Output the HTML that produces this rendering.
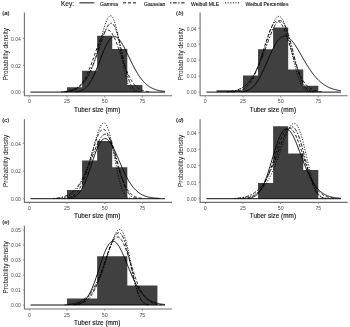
<!DOCTYPE html>
<html lang="en"><head><meta charset="utf-8"><title>Tuber size distributions</title>
<style>html,body{margin:0;padding:0;background:#fff;}body{width:350px;height:327px;overflow:hidden;}svg{display:block;will-change:transform;}</style>
</head><body>
<svg width="350" height="327" viewBox="0 0 350 327" font-family='"Liberation Sans", sans-serif'>
<rect width="350" height="327" fill="#fff"/>
<g font-size="5.05" fill="#000" stroke="#000" stroke-width="0.08">
<text x="61" y="5.8" font-size="6.5" fill="#111" stroke="#111" stroke-width="0.1">Key:</text>
<line x1="79.4" y1="2.85" x2="94.3" y2="2.85" stroke="#000" stroke-width="0.95"/>
<text x="100" y="5.6">Gamma</text>
<line x1="123" y1="2.85" x2="137.6" y2="2.85" stroke="#000" stroke-width="0.95" stroke-dasharray="3 2"/>
<text x="144" y="5.6">Gaussian</text>
<line x1="170" y1="2.85" x2="184.6" y2="2.85" stroke="#000" stroke-width="0.95" stroke-dasharray="1.5 1.5 3.7 1.5"/>
<text x="191" y="5.6">Weibull MLE</text>
<line x1="225" y1="2.85" x2="239.6" y2="2.85" stroke="#000" stroke-width="0.95" stroke-dasharray="1.1 1.5"/>
<text x="245.6" y="5.6">Weibull Percentiles</text>
</g>
<g id="panel-a">
<path d="M67.03 92.10 V87.30 H82.09 V70.70 H97.16 V35.80 H112.23 V49.00 H127.31 V85.00 H142.38 V92.10 Z" fill="#404040"/>
<line x1="30.56" x2="164.98" y1="92.10" y2="92.10" stroke="#000" stroke-width="0.95"/>
<path d="M75.51 91.82 L75.96 91.78 L76.41 91.73 L76.86 91.67 L77.31 91.60 L77.76 91.53 L78.21 91.45 L78.66 91.35 L79.11 91.25 L79.56 91.13 L80.01 91.00 L80.46 90.86 L80.91 90.70 L81.36 90.53 L81.81 90.33 L82.26 90.12 L82.71 89.90 L83.16 89.65 L83.61 89.37 L84.06 89.08 L84.51 88.76 L84.95 88.42 L85.40 88.05 L85.85 87.66 L86.30 87.23 L86.75 86.78 L87.20 86.30 L87.65 85.79 L88.10 85.24 L88.55 84.67 L89.00 84.06 L89.45 83.42 L89.90 82.74 L90.35 82.03 L90.80 81.29 L91.25 80.52 L91.70 79.72 L92.15 78.88 L92.60 78.01 L93.05 77.11 L93.50 76.17 L93.95 75.21 L94.40 74.23 L94.85 73.21 L95.30 72.17 L95.74 71.11 L96.19 70.02 L96.64 68.92 L97.09 67.79 L97.54 66.65 L97.99 65.50 L98.44 64.34 L98.89 63.17 L99.34 61.99 L99.79 60.81 L100.24 59.63 L100.69 58.45 L101.14 57.27 L101.59 56.11 L102.04 54.95 L102.49 53.81 L102.94 52.68 L103.39 51.58 L103.84 50.49 L104.29 49.43 L104.74 48.40 L105.19 47.40 L105.64 46.43 L106.09 45.49 L106.53 44.59 L106.98 43.73 L107.43 42.92 L107.88 42.14 L108.33 41.41 L108.78 40.73 L109.23 40.10 L109.68 39.52 L110.13 38.98 L110.58 38.50 L111.03 38.08 L111.48 37.70 L111.93 37.38 L112.38 37.12 L112.83 36.91 L113.28 36.75 L113.73 36.65 L114.18 36.60 L114.63 36.61 L115.08 36.67 L115.53 36.78 L115.98 36.95 L116.43 37.16 L116.87 37.43 L117.32 37.74 L117.77 38.10 L118.22 38.50 L118.67 38.95 L119.12 39.45 L119.57 39.98 L120.02 40.55 L120.47 41.16 L120.92 41.80 L121.37 42.48 L121.82 43.18 L122.27 43.92 L122.72 44.69 L123.17 45.48 L123.62 46.29 L124.07 47.12 L124.52 47.98 L124.97 48.85 L125.42 49.73 L125.87 50.63 L126.32 51.54 L126.77 52.46 L127.22 53.39 L127.66 54.32 L128.11 55.26 L128.56 56.20 L129.01 57.14 L129.46 58.08 L129.91 59.02 L130.36 59.95 L130.81 60.88 L131.26 61.80 L131.71 62.72 L132.16 63.62 L132.61 64.52 L133.06 65.41 L133.51 66.28 L133.96 67.14 L134.41 67.99 L134.86 68.83 L135.31 69.65 L135.76 70.45 L136.21 71.24 L136.66 72.01 L137.11 72.77 L137.56 73.50 L138.01 74.22 L138.45 74.93 L138.90 75.61 L139.35 76.28 L139.80 76.93 L140.25 77.56 L140.70 78.17 L141.15 78.76 L141.60 79.34 L142.05 79.89 L142.50 80.43 L142.95 80.96 L143.40 81.46 L143.85 81.95 L144.30 82.42 L144.75 82.87 L145.20 83.31 L145.65 83.73 L146.10 84.13 L146.55 84.52 L147.00 84.89 L147.45 85.25 L147.90 85.59 L148.35 85.92 L148.80 86.24 L149.24 86.54 L149.69 86.83 L150.14 87.11 L150.59 87.37 L151.04 87.62 L151.49 87.86 L151.94 88.09 L152.39 88.31 L152.84 88.52 L153.29 88.72 L153.74 88.91 L154.19 89.09 L154.64 89.26 L155.09 89.42 L155.54 89.58 L155.99 89.73 L156.44 89.86 L156.89 90.00 L157.34 90.12 L157.79 90.24 L158.24 90.35 L158.69 90.46 L159.14 90.56 L159.59 90.65 L160.03 90.74 L160.48 90.83 L160.93 90.91 L161.38 90.98 L161.83 91.05 L162.28 91.12 L162.73 91.18 L163.18 91.24 L163.63 91.30 L164.08 91.35 L164.53 91.40 L164.98 91.44" fill="none" stroke="#000" stroke-width="0.95"/>
<path d="M65.17 91.81 L65.62 91.78 L66.07 91.74 L66.52 91.70 L66.97 91.65 L67.42 91.60 L67.87 91.54 L68.32 91.48 L68.77 91.41 L69.22 91.34 L69.67 91.26 L70.12 91.17 L70.57 91.07 L71.02 90.96 L71.47 90.85 L71.92 90.72 L72.37 90.58 L72.82 90.43 L73.27 90.27 L73.72 90.10 L74.16 89.91 L74.61 89.71 L75.06 89.49 L75.51 89.25 L75.96 89.00 L76.41 88.72 L76.86 88.43 L77.31 88.12 L77.76 87.78 L78.21 87.43 L78.66 87.05 L79.11 86.64 L79.56 86.21 L80.01 85.76 L80.46 85.27 L80.91 84.76 L81.36 84.22 L81.81 83.65 L82.26 83.05 L82.71 82.42 L83.16 81.76 L83.61 81.07 L84.06 80.34 L84.51 79.58 L84.95 78.79 L85.40 77.96 L85.85 77.10 L86.30 76.21 L86.75 75.29 L87.20 74.33 L87.65 73.34 L88.10 72.32 L88.55 71.27 L89.00 70.19 L89.45 69.08 L89.90 67.94 L90.35 66.78 L90.80 65.60 L91.25 64.39 L91.70 63.16 L92.15 61.91 L92.60 60.65 L93.05 59.37 L93.50 58.09 L93.95 56.79 L94.40 55.49 L94.85 54.19 L95.30 52.89 L95.74 51.59 L96.19 50.30 L96.64 49.02 L97.09 47.75 L97.54 46.50 L97.99 45.27 L98.44 44.07 L98.89 42.90 L99.34 41.75 L99.79 40.65 L100.24 39.58 L100.69 38.55 L101.14 37.57 L101.59 36.64 L102.04 35.76 L102.49 34.93 L102.94 34.16 L103.39 33.45 L103.84 32.81 L104.29 32.23 L104.74 31.71 L105.19 31.27 L105.64 30.89 L106.09 30.59 L106.53 30.36 L106.98 30.20 L107.43 30.12 L107.88 30.11 L108.33 30.17 L108.78 30.31 L109.23 30.52 L109.68 30.81 L110.13 31.17 L110.58 31.60 L111.03 32.09 L111.48 32.66 L111.93 33.29 L112.38 33.98 L112.83 34.74 L113.28 35.55 L113.73 36.42 L114.18 37.34 L114.63 38.31 L115.08 39.32 L115.53 40.38 L115.98 41.48 L116.43 42.61 L116.87 43.78 L117.32 44.98 L117.77 46.20 L118.22 47.44 L118.67 48.70 L119.12 49.98 L119.57 51.27 L120.02 52.57 L120.47 53.87 L120.92 55.17 L121.37 56.47 L121.82 57.77 L122.27 59.06 L122.72 60.34 L123.17 61.60 L123.62 62.85 L124.07 64.09 L124.52 65.30 L124.97 66.49 L125.42 67.66 L125.87 68.80 L126.32 69.92 L126.77 71.00 L127.22 72.06 L127.66 73.09 L128.11 74.09 L128.56 75.05 L129.01 75.99 L129.46 76.89 L129.91 77.75 L130.36 78.59 L130.81 79.39 L131.26 80.16 L131.71 80.89 L132.16 81.59 L132.61 82.26 L133.06 82.90 L133.51 83.51 L133.96 84.09 L134.41 84.63 L134.86 85.15 L135.31 85.64 L135.76 86.10 L136.21 86.54 L136.66 86.95 L137.11 87.34 L137.56 87.70 L138.01 88.04 L138.45 88.36 L138.90 88.65 L139.35 88.93 L139.80 89.19 L140.25 89.43 L140.70 89.65 L141.15 89.86 L141.60 90.05 L142.05 90.23 L142.50 90.40 L142.95 90.55 L143.40 90.69 L143.85 90.82 L144.30 90.94 L144.75 91.05 L145.20 91.15 L145.65 91.24 L146.10 91.32 L146.55 91.40 L147.00 91.47 L147.45 91.53 L147.90 91.59 L148.35 91.64 L148.80 91.69 L149.24 91.73 L149.69 91.77 L150.14 91.80" fill="none" stroke="#000" stroke-width="0.95" stroke-dasharray="3 2"/>
<path d="M61.13 91.80 L61.58 91.77 L62.03 91.74 L62.48 91.71 L62.93 91.67 L63.37 91.63 L63.82 91.59 L64.27 91.54 L64.72 91.49 L65.17 91.44 L65.62 91.38 L66.07 91.32 L66.52 91.25 L66.97 91.18 L67.42 91.11 L67.87 91.02 L68.32 90.94 L68.77 90.85 L69.22 90.75 L69.67 90.64 L70.12 90.53 L70.57 90.41 L71.02 90.29 L71.47 90.15 L71.92 90.01 L72.37 89.86 L72.82 89.70 L73.27 89.53 L73.72 89.35 L74.16 89.17 L74.61 88.97 L75.06 88.75 L75.51 88.53 L75.96 88.30 L76.41 88.05 L76.86 87.79 L77.31 87.51 L77.76 87.22 L78.21 86.92 L78.66 86.60 L79.11 86.26 L79.56 85.91 L80.01 85.54 L80.46 85.15 L80.91 84.75 L81.36 84.32 L81.81 83.88 L82.26 83.41 L82.71 82.93 L83.16 82.42 L83.61 81.89 L84.06 81.34 L84.51 80.76 L84.95 80.16 L85.40 79.54 L85.85 78.89 L86.30 78.22 L86.75 77.52 L87.20 76.80 L87.65 76.05 L88.10 75.27 L88.55 74.46 L89.00 73.63 L89.45 72.77 L89.90 71.88 L90.35 70.96 L90.80 70.02 L91.25 69.05 L91.70 68.05 L92.15 67.02 L92.60 65.97 L93.05 64.89 L93.50 63.78 L93.95 62.65 L94.40 61.49 L94.85 60.31 L95.30 59.11 L95.74 57.88 L96.19 56.64 L96.64 55.37 L97.09 54.09 L97.54 52.80 L97.99 51.49 L98.44 50.17 L98.89 48.85 L99.34 47.51 L99.79 46.18 L100.24 44.84 L100.69 43.51 L101.14 42.18 L101.59 40.87 L102.04 39.56 L102.49 38.28 L102.94 37.02 L103.39 35.78 L103.84 34.57 L104.29 33.40 L104.74 32.27 L105.19 31.18 L105.64 30.14 L106.09 29.15 L106.53 28.22 L106.98 27.36 L107.43 26.56 L107.88 25.84 L108.33 25.19 L108.78 24.63 L109.23 24.16 L109.68 23.77 L110.13 23.48 L110.58 23.29 L111.03 23.21 L111.48 23.22 L111.93 23.35 L112.38 23.59 L112.83 23.93 L113.28 24.40 L113.73 24.97 L114.18 25.66 L114.63 26.47 L115.08 27.38 L115.53 28.41 L115.98 29.54 L116.43 30.78 L116.87 32.12 L117.32 33.56 L117.77 35.08 L118.22 36.70 L118.67 38.39 L119.12 40.15 L119.57 41.98 L120.02 43.86 L120.47 45.80 L120.92 47.77 L121.37 49.77 L121.82 51.80 L122.27 53.83 L122.72 55.87 L123.17 57.91 L123.62 59.93 L124.07 61.92 L124.52 63.88 L124.97 65.80 L125.42 67.68 L125.87 69.50 L126.32 71.26 L126.77 72.95 L127.22 74.57 L127.66 76.11 L128.11 77.58 L128.56 78.96 L129.01 80.27 L129.46 81.48 L129.91 82.62 L130.36 83.67 L130.81 84.64 L131.26 85.53 L131.71 86.34 L132.16 87.07 L132.61 87.73 L133.06 88.33 L133.51 88.86 L133.96 89.33 L134.41 89.75 L134.86 90.11 L135.31 90.43 L135.76 90.71 L136.21 90.94 L136.66 91.15 L137.11 91.32 L137.56 91.46 L138.01 91.58 L138.45 91.69 L138.90 91.77 L139.35 91.84" fill="none" stroke="#000" stroke-width="0.95" stroke-dasharray="1.5 1.5 3.7 1.5"/>
<path d="M63.37 91.81 L63.82 91.78 L64.27 91.75 L64.72 91.72 L65.17 91.68 L65.62 91.64 L66.07 91.59 L66.52 91.55 L66.97 91.50 L67.42 91.44 L67.87 91.38 L68.32 91.31 L68.77 91.24 L69.22 91.17 L69.67 91.09 L70.12 91.00 L70.57 90.91 L71.02 90.81 L71.47 90.70 L71.92 90.59 L72.37 90.47 L72.82 90.34 L73.27 90.20 L73.72 90.05 L74.16 89.89 L74.61 89.72 L75.06 89.54 L75.51 89.35 L75.96 89.15 L76.41 88.93 L76.86 88.70 L77.31 88.46 L77.76 88.20 L78.21 87.93 L78.66 87.64 L79.11 87.33 L79.56 87.01 L80.01 86.66 L80.46 86.30 L80.91 85.92 L81.36 85.52 L81.81 85.10 L82.26 84.65 L82.71 84.18 L83.16 83.69 L83.61 83.17 L84.06 82.62 L84.51 82.05 L84.95 81.45 L85.40 80.82 L85.85 80.17 L86.30 79.48 L86.75 78.76 L87.20 78.01 L87.65 77.23 L88.10 76.41 L88.55 75.56 L89.00 74.67 L89.45 73.75 L89.90 72.79 L90.35 71.80 L90.80 70.77 L91.25 69.70 L91.70 68.60 L92.15 67.45 L92.60 66.27 L93.05 65.06 L93.50 63.80 L93.95 62.51 L94.40 61.19 L94.85 59.82 L95.30 58.43 L95.74 57.00 L96.19 55.54 L96.64 54.06 L97.09 52.54 L97.54 51.00 L97.99 49.44 L98.44 47.85 L98.89 46.25 L99.34 44.64 L99.79 43.02 L100.24 41.39 L100.69 39.75 L101.14 38.13 L101.59 36.51 L102.04 34.90 L102.49 33.31 L102.94 31.75 L103.39 30.22 L103.84 28.72 L104.29 27.27 L104.74 25.88 L105.19 24.54 L105.64 23.26 L106.09 22.06 L106.53 20.94 L106.98 19.91 L107.43 18.97 L107.88 18.14 L108.33 17.42 L108.78 16.81 L109.23 16.33 L109.68 15.98 L110.13 15.77 L110.58 15.70 L111.03 15.78 L111.48 16.00 L111.93 16.38 L112.38 16.92 L112.83 17.61 L113.28 18.46 L113.73 19.47 L114.18 20.64 L114.63 21.95 L115.08 23.42 L115.53 25.03 L115.98 26.78 L116.43 28.66 L116.87 30.66 L117.32 32.77 L117.77 34.98 L118.22 37.27 L118.67 39.65 L119.12 42.09 L119.57 44.57 L120.02 47.09 L120.47 49.63 L120.92 52.18 L121.37 54.72 L121.82 57.23 L122.27 59.71 L122.72 62.13 L123.17 64.50 L123.62 66.79 L124.07 69.00 L124.52 71.11 L124.97 73.12 L125.42 75.03 L125.87 76.82 L126.32 78.49 L126.77 80.05 L127.22 81.49 L127.66 82.81 L128.11 84.02 L128.56 85.11 L129.01 86.09 L129.46 86.97 L129.91 87.75 L130.36 88.43 L130.81 89.03 L131.26 89.55 L131.71 90.00 L132.16 90.38 L132.61 90.70 L133.06 90.97 L133.51 91.20 L133.96 91.39 L134.41 91.54 L134.86 91.66 L135.31 91.76 L135.76 91.84" fill="none" stroke="#000" stroke-width="0.95" stroke-dasharray="1.1 1.5"/>
<path d="M24.4 12.60 V95.8 H172.00" fill="none" stroke="#707070" stroke-width="1.1"/>
<line x1="22.799999999999997" x2="24.4" y1="92.10" y2="92.10" stroke="#707070" stroke-width="0.8"/>
<text x="20.80" y="94.45" font-size="5.0" fill="#4a4a4a" text-anchor="end">0.00</text>
<line x1="22.799999999999997" x2="24.4" y1="65.34" y2="65.34" stroke="#707070" stroke-width="0.8"/>
<text x="20.80" y="67.69" font-size="5.0" fill="#4a4a4a" text-anchor="end">0.02</text>
<line x1="22.799999999999997" x2="24.4" y1="38.58" y2="38.58" stroke="#707070" stroke-width="0.8"/>
<text x="20.80" y="40.93" font-size="5.0" fill="#4a4a4a" text-anchor="end">0.04</text>
<line x1="29.35" x2="29.35" y1="95.8" y2="97.39999999999999" stroke="#707070" stroke-width="0.8"/>
<text x="29.35" y="103.30" font-size="5.25" fill="#4a4a4a" text-anchor="middle">0</text>
<line x1="67.03" x2="67.03" y1="95.8" y2="97.39999999999999" stroke="#707070" stroke-width="0.8"/>
<text x="67.03" y="103.30" font-size="5.25" fill="#4a4a4a" text-anchor="middle">25</text>
<line x1="104.70" x2="104.70" y1="95.8" y2="97.39999999999999" stroke="#707070" stroke-width="0.8"/>
<text x="104.70" y="103.30" font-size="5.25" fill="#4a4a4a" text-anchor="middle">50</text>
<line x1="142.38" x2="142.38" y1="95.8" y2="97.39999999999999" stroke="#707070" stroke-width="0.8"/>
<text x="142.38" y="103.30" font-size="5.25" fill="#4a4a4a" text-anchor="middle">75</text>
<text x="97.20" y="111.75" font-size="6.4" fill="#111" stroke="#111" stroke-width="0.12" text-anchor="middle">Tuber size (mm)</text>
<text transform="translate(7.50 54.20) rotate(-90)" font-size="6.45" fill="#151515" text-anchor="middle">Probability density</text>
<text x="2.2" y="15.1" font-size="6.1" fill="#111" stroke="#111" stroke-width="0.12">(<tspan font-style="italic">a</tspan>)</text>
</g>
<g id="panel-b">
<path d="M216.60 92.10 V90.30 H242.98 V75.60 H258.05 V49.20 H273.12 V27.60 H288.19 V69.60 H303.25 V85.80 H318.32 V92.10 Z" fill="#404040"/>
<line x1="206.51" x2="340.93" y1="92.10" y2="92.10" stroke="#000" stroke-width="0.95"/>
<path d="M241.12 91.82 L241.57 91.78 L242.02 91.73 L242.47 91.67 L242.92 91.61 L243.37 91.54 L243.82 91.46 L244.27 91.37 L244.72 91.27 L245.17 91.16 L245.62 91.05 L246.07 90.92 L246.52 90.77 L246.97 90.62 L247.42 90.45 L247.87 90.26 L248.32 90.06 L248.77 89.84 L249.22 89.60 L249.67 89.35 L250.11 89.08 L250.56 88.78 L251.01 88.47 L251.46 88.13 L251.91 87.77 L252.36 87.39 L252.81 86.99 L253.26 86.56 L253.71 86.10 L254.16 85.62 L254.61 85.12 L255.06 84.59 L255.51 84.03 L255.96 83.45 L256.41 82.84 L256.86 82.20 L257.31 81.54 L257.76 80.85 L258.21 80.14 L258.66 79.40 L259.11 78.63 L259.56 77.84 L260.01 77.03 L260.46 76.19 L260.90 75.33 L261.35 74.45 L261.80 73.55 L262.25 72.63 L262.70 71.69 L263.15 70.73 L263.60 69.75 L264.05 68.77 L264.50 67.77 L264.95 66.75 L265.40 65.73 L265.85 64.70 L266.30 63.67 L266.75 62.63 L267.20 61.58 L267.65 60.54 L268.10 59.49 L268.55 58.45 L269.00 57.41 L269.45 56.38 L269.90 55.36 L270.35 54.34 L270.80 53.34 L271.25 52.36 L271.69 51.38 L272.14 50.43 L272.59 49.50 L273.04 48.58 L273.49 47.69 L273.94 46.82 L274.39 45.98 L274.84 45.16 L275.29 44.38 L275.74 43.62 L276.19 42.90 L276.64 42.20 L277.09 41.54 L277.54 40.92 L277.99 40.33 L278.44 39.77 L278.89 39.26 L279.34 38.78 L279.79 38.34 L280.24 37.94 L280.69 37.57 L281.14 37.25 L281.59 36.97 L282.04 36.73 L282.48 36.52 L282.93 36.36 L283.38 36.24 L283.83 36.15 L284.28 36.11 L284.73 36.10 L285.18 36.14 L285.63 36.21 L286.08 36.32 L286.53 36.46 L286.98 36.64 L287.43 36.86 L287.88 37.11 L288.33 37.40 L288.78 37.72 L289.23 38.07 L289.68 38.45 L290.13 38.86 L290.58 39.30 L291.03 39.77 L291.48 40.26 L291.93 40.78 L292.38 41.33 L292.82 41.89 L293.27 42.48 L293.72 43.09 L294.17 43.72 L294.62 44.37 L295.07 45.03 L295.52 45.71 L295.97 46.40 L296.42 47.11 L296.87 47.83 L297.32 48.56 L297.77 49.30 L298.22 50.05 L298.67 50.81 L299.12 51.58 L299.57 52.35 L300.02 53.12 L300.47 53.90 L300.92 54.68 L301.37 55.46 L301.82 56.24 L302.27 57.02 L302.72 57.80 L303.17 58.58 L303.61 59.36 L304.06 60.13 L304.51 60.90 L304.96 61.66 L305.41 62.42 L305.86 63.17 L306.31 63.91 L306.76 64.65 L307.21 65.38 L307.66 66.10 L308.11 66.81 L308.56 67.51 L309.01 68.20 L309.46 68.88 L309.91 69.56 L310.36 70.22 L310.81 70.87 L311.26 71.51 L311.71 72.13 L312.16 72.75 L312.61 73.35 L313.06 73.94 L313.51 74.52 L313.96 75.09 L314.40 75.65 L314.85 76.19 L315.30 76.72 L315.75 77.24 L316.20 77.74 L316.65 78.24 L317.10 78.72 L317.55 79.19 L318.00 79.64 L318.45 80.09 L318.90 80.52 L319.35 80.94 L319.80 81.35 L320.25 81.75 L320.70 82.14 L321.15 82.51 L321.60 82.88 L322.05 83.23 L322.50 83.57 L322.95 83.90 L323.40 84.22 L323.85 84.53 L324.30 84.84 L324.75 85.13 L325.19 85.41 L325.64 85.68 L326.09 85.94 L326.54 86.20 L326.99 86.44 L327.44 86.68 L327.89 86.91 L328.34 87.13 L328.79 87.34 L329.24 87.54 L329.69 87.74 L330.14 87.93 L330.59 88.11 L331.04 88.29 L331.49 88.45 L331.94 88.62 L332.39 88.77 L332.84 88.92 L333.29 89.07 L333.74 89.20 L334.19 89.34 L334.64 89.46 L335.09 89.59 L335.54 89.70 L335.98 89.82 L336.43 89.92 L336.88 90.03 L337.33 90.12 L337.78 90.22 L338.23 90.31 L338.68 90.39 L339.13 90.48 L339.58 90.56 L340.03 90.63 L340.48 90.70 L340.93 90.77" fill="none" stroke="#000" stroke-width="0.95"/>
<path d="M232.58 91.81 L233.03 91.78 L233.48 91.74 L233.93 91.70 L234.38 91.65 L234.83 91.60 L235.28 91.55 L235.73 91.49 L236.18 91.42 L236.63 91.35 L237.08 91.27 L237.53 91.18 L237.98 91.09 L238.43 90.99 L238.88 90.87 L239.32 90.75 L239.77 90.62 L240.22 90.48 L240.67 90.32 L241.12 90.16 L241.57 89.98 L242.02 89.78 L242.47 89.57 L242.92 89.35 L243.37 89.10 L243.82 88.84 L244.27 88.56 L244.72 88.26 L245.17 87.94 L245.62 87.60 L246.07 87.24 L246.52 86.85 L246.97 86.44 L247.42 86.00 L247.87 85.54 L248.32 85.05 L248.77 84.53 L249.22 83.98 L249.67 83.40 L250.11 82.79 L250.56 82.15 L251.01 81.48 L251.46 80.77 L251.91 80.03 L252.36 79.25 L252.81 78.44 L253.26 77.60 L253.71 76.72 L254.16 75.81 L254.61 74.86 L255.06 73.87 L255.51 72.85 L255.96 71.80 L256.41 70.71 L256.86 69.59 L257.31 68.43 L257.76 67.25 L258.21 66.03 L258.66 64.78 L259.11 63.51 L259.56 62.21 L260.01 60.89 L260.46 59.54 L260.90 58.17 L261.35 56.79 L261.80 55.39 L262.25 53.97 L262.70 52.55 L263.15 51.12 L263.60 49.68 L264.05 48.24 L264.50 46.80 L264.95 45.37 L265.40 43.95 L265.85 42.53 L266.30 41.14 L266.75 39.76 L267.20 38.40 L267.65 37.07 L268.10 35.77 L268.55 34.50 L269.00 33.27 L269.45 32.08 L269.90 30.94 L270.35 29.84 L270.80 28.79 L271.25 27.79 L271.69 26.86 L272.14 25.98 L272.59 25.16 L273.04 24.41 L273.49 23.73 L273.94 23.12 L274.39 22.57 L274.84 22.11 L275.29 21.71 L275.74 21.40 L276.19 21.16 L276.64 21.00 L277.09 20.91 L277.54 20.91 L277.99 20.98 L278.44 21.14 L278.89 21.37 L279.34 21.68 L279.79 22.07 L280.24 22.53 L280.69 23.06 L281.14 23.67 L281.59 24.35 L282.04 25.09 L282.48 25.90 L282.93 26.77 L283.38 27.71 L283.83 28.70 L284.28 29.74 L284.73 30.84 L285.18 31.98 L285.63 33.17 L286.08 34.39 L286.53 35.66 L286.98 36.95 L287.43 38.28 L287.88 39.64 L288.33 41.01 L288.78 42.41 L289.23 43.82 L289.68 45.24 L290.13 46.68 L290.58 48.11 L291.03 49.55 L291.48 50.99 L291.93 52.42 L292.38 53.85 L292.82 55.26 L293.27 56.66 L293.72 58.05 L294.17 59.42 L294.62 60.77 L295.07 62.09 L295.52 63.39 L295.97 64.67 L296.42 65.92 L296.87 67.14 L297.32 68.33 L297.77 69.48 L298.22 70.61 L298.67 71.70 L299.12 72.76 L299.57 73.78 L300.02 74.77 L300.47 75.72 L300.92 76.64 L301.37 77.52 L301.82 78.37 L302.27 79.18 L302.72 79.96 L303.17 80.70 L303.61 81.41 L304.06 82.09 L304.51 82.74 L304.96 83.35 L305.41 83.93 L305.86 84.48 L306.31 85.00 L306.76 85.50 L307.21 85.96 L307.66 86.40 L308.11 86.82 L308.56 87.21 L309.01 87.57 L309.46 87.92 L309.91 88.24 L310.36 88.54 L310.81 88.82 L311.26 89.08 L311.71 89.32 L312.16 89.55 L312.61 89.76 L313.06 89.96 L313.51 90.14 L313.96 90.31 L314.40 90.46 L314.85 90.61 L315.30 90.74 L315.75 90.86 L316.20 90.98 L316.65 91.08 L317.10 91.17 L317.55 91.26 L318.00 91.34 L318.45 91.41 L318.90 91.48 L319.35 91.54 L319.80 91.60 L320.25 91.65 L320.70 91.69 L321.15 91.73 L321.60 91.77 L322.05 91.81" fill="none" stroke="#000" stroke-width="0.95" stroke-dasharray="3 2"/>
<path d="M226.74 91.83 L227.19 91.79 L227.64 91.76 L228.09 91.73 L228.54 91.69 L228.98 91.64 L229.43 91.60 L229.88 91.55 L230.33 91.49 L230.78 91.44 L231.23 91.37 L231.68 91.31 L232.13 91.23 L232.58 91.16 L233.03 91.08 L233.48 90.99 L233.93 90.89 L234.38 90.79 L234.83 90.69 L235.28 90.57 L235.73 90.45 L236.18 90.33 L236.63 90.19 L237.08 90.05 L237.53 89.89 L237.98 89.73 L238.43 89.56 L238.88 89.38 L239.32 89.19 L239.77 88.99 L240.22 88.78 L240.67 88.56 L241.12 88.32 L241.57 88.08 L242.02 87.82 L242.47 87.55 L242.92 87.26 L243.37 86.96 L243.82 86.65 L244.27 86.32 L244.72 85.98 L245.17 85.62 L245.62 85.25 L246.07 84.86 L246.52 84.45 L246.97 84.02 L247.42 83.58 L247.87 83.12 L248.32 82.64 L248.77 82.14 L249.22 81.62 L249.67 81.08 L250.11 80.53 L250.56 79.95 L251.01 79.35 L251.46 78.72 L251.91 78.08 L252.36 77.42 L252.81 76.73 L253.26 76.02 L253.71 75.29 L254.16 74.53 L254.61 73.75 L255.06 72.95 L255.51 72.12 L255.96 71.28 L256.41 70.41 L256.86 69.51 L257.31 68.60 L257.76 67.66 L258.21 66.69 L258.66 65.71 L259.11 64.70 L259.56 63.68 L260.01 62.63 L260.46 61.56 L260.90 60.48 L261.35 59.37 L261.80 58.25 L262.25 57.11 L262.70 55.95 L263.15 54.79 L263.60 53.60 L264.05 52.41 L264.50 51.20 L264.95 49.99 L265.40 48.77 L265.85 47.54 L266.30 46.31 L266.75 45.08 L267.20 43.85 L267.65 42.62 L268.10 41.40 L268.55 40.18 L269.00 38.98 L269.45 37.78 L269.90 36.61 L270.35 35.45 L270.80 34.31 L271.25 33.19 L271.69 32.10 L272.14 31.05 L272.59 30.02 L273.04 29.03 L273.49 28.08 L273.94 27.17 L274.39 26.31 L274.84 25.50 L275.29 24.73 L275.74 24.03 L276.19 23.38 L276.64 22.79 L277.09 22.27 L277.54 21.81 L277.99 21.42 L278.44 21.11 L278.89 20.87 L279.34 20.70 L279.79 20.61 L280.24 20.61 L280.69 20.68 L281.14 20.84 L281.59 21.08 L282.04 21.41 L282.48 21.82 L282.93 22.32 L283.38 22.91 L283.83 23.57 L284.28 24.33 L284.73 25.16 L285.18 26.08 L285.63 27.07 L286.08 28.14 L286.53 29.29 L286.98 30.51 L287.43 31.80 L287.88 33.15 L288.33 34.56 L288.78 36.03 L289.23 37.55 L289.68 39.12 L290.13 40.73 L290.58 42.38 L291.03 44.07 L291.48 45.77 L291.93 47.51 L292.38 49.25 L292.82 51.01 L293.27 52.77 L293.72 54.54 L294.17 56.29 L294.62 58.04 L295.07 59.76 L295.52 61.47 L295.97 63.15 L296.42 64.80 L296.87 66.41 L297.32 67.98 L297.77 69.51 L298.22 71.00 L298.67 72.43 L299.12 73.82 L299.57 75.15 L300.02 76.42 L300.47 77.63 L300.92 78.79 L301.37 79.89 L301.82 80.93 L302.27 81.91 L302.72 82.83 L303.17 83.69 L303.61 84.49 L304.06 85.24 L304.51 85.94 L304.96 86.58 L305.41 87.17 L305.86 87.71 L306.31 88.21 L306.76 88.66 L307.21 89.07 L307.66 89.44 L308.11 89.77 L308.56 90.07 L309.01 90.33 L309.46 90.57 L309.91 90.78 L310.36 90.97 L310.81 91.13 L311.26 91.28 L311.71 91.40 L312.16 91.51 L312.61 91.60 L313.06 91.68 L313.51 91.75 L313.96 91.81" fill="none" stroke="#000" stroke-width="0.95" stroke-dasharray="1.5 1.5 3.7 1.5"/>
<path d="M227.64 91.82 L228.09 91.79 L228.54 91.75 L228.98 91.71 L229.43 91.67 L229.88 91.63 L230.33 91.58 L230.78 91.53 L231.23 91.47 L231.68 91.41 L232.13 91.34 L232.58 91.27 L233.03 91.20 L233.48 91.11 L233.93 91.03 L234.38 90.93 L234.83 90.83 L235.28 90.72 L235.73 90.61 L236.18 90.49 L236.63 90.36 L237.08 90.22 L237.53 90.07 L237.98 89.91 L238.43 89.75 L238.88 89.57 L239.32 89.39 L239.77 89.19 L240.22 88.98 L240.67 88.76 L241.12 88.52 L241.57 88.28 L242.02 88.02 L242.47 87.75 L242.92 87.46 L243.37 87.16 L243.82 86.84 L244.27 86.50 L244.72 86.15 L245.17 85.79 L245.62 85.40 L246.07 85.00 L246.52 84.58 L246.97 84.13 L247.42 83.67 L247.87 83.19 L248.32 82.69 L248.77 82.16 L249.22 81.62 L249.67 81.05 L250.11 80.46 L250.56 79.84 L251.01 79.20 L251.46 78.54 L251.91 77.85 L252.36 77.13 L252.81 76.39 L253.26 75.63 L253.71 74.84 L254.16 74.02 L254.61 73.17 L255.06 72.30 L255.51 71.40 L255.96 70.47 L256.41 69.52 L256.86 68.54 L257.31 67.53 L257.76 66.49 L258.21 65.43 L258.66 64.34 L259.11 63.23 L259.56 62.09 L260.01 60.93 L260.46 59.74 L260.90 58.53 L261.35 57.30 L261.80 56.04 L262.25 54.77 L262.70 53.48 L263.15 52.17 L263.60 50.84 L264.05 49.51 L264.50 48.15 L264.95 46.79 L265.40 45.43 L265.85 44.05 L266.30 42.68 L266.75 41.30 L267.20 39.92 L267.65 38.55 L268.10 37.19 L268.55 35.84 L269.00 34.50 L269.45 33.18 L269.90 31.89 L270.35 30.61 L270.80 29.37 L271.25 28.16 L271.69 26.98 L272.14 25.84 L272.59 24.75 L273.04 23.71 L273.49 22.72 L273.94 21.78 L274.39 20.91 L274.84 20.10 L275.29 19.35 L275.74 18.68 L276.19 18.09 L276.64 17.57 L277.09 17.14 L277.54 16.80 L277.99 16.54 L278.44 16.37 L278.89 16.30 L279.34 16.33 L279.79 16.45 L280.24 16.68 L280.69 17.01 L281.14 17.43 L281.59 17.97 L282.04 18.60 L282.48 19.34 L282.93 20.17 L283.38 21.11 L283.83 22.15 L284.28 23.28 L284.73 24.50 L285.18 25.81 L285.63 27.21 L286.08 28.69 L286.53 30.25 L286.98 31.88 L287.43 33.58 L287.88 35.33 L288.33 37.14 L288.78 39.00 L289.23 40.90 L289.68 42.83 L290.13 44.79 L290.58 46.77 L291.03 48.77 L291.48 50.76 L291.93 52.76 L292.38 54.75 L292.82 56.72 L293.27 58.67 L293.72 60.59 L294.17 62.48 L294.62 64.33 L295.07 66.13 L295.52 67.88 L295.97 69.57 L296.42 71.20 L296.87 72.78 L297.32 74.28 L297.77 75.72 L298.22 77.09 L298.67 78.38 L299.12 79.61 L299.57 80.76 L300.02 81.84 L300.47 82.85 L300.92 83.79 L301.37 84.65 L301.82 85.46 L302.27 86.19 L302.72 86.87 L303.17 87.48 L303.61 88.04 L304.06 88.55 L304.51 89.00 L304.96 89.41 L305.41 89.77 L305.86 90.10 L306.31 90.38 L306.76 90.63 L307.21 90.86 L307.66 91.05 L308.11 91.21 L308.56 91.36 L309.01 91.48 L309.46 91.59 L309.91 91.68 L310.36 91.75 L310.81 91.82" fill="none" stroke="#000" stroke-width="0.95" stroke-dasharray="1.1 1.5"/>
<path d="M200.1 12.60 V95.8 H347.70" fill="none" stroke="#707070" stroke-width="1.1"/>
<line x1="198.5" x2="200.1" y1="92.10" y2="92.10" stroke="#707070" stroke-width="0.8"/>
<text x="196.50" y="94.45" font-size="5.0" fill="#4a4a4a" text-anchor="end">0.00</text>
<line x1="198.5" x2="200.1" y1="76.12" y2="76.12" stroke="#707070" stroke-width="0.8"/>
<text x="196.50" y="78.47" font-size="5.0" fill="#4a4a4a" text-anchor="end">0.01</text>
<line x1="198.5" x2="200.1" y1="60.14" y2="60.14" stroke="#707070" stroke-width="0.8"/>
<text x="196.50" y="62.49" font-size="5.0" fill="#4a4a4a" text-anchor="end">0.02</text>
<line x1="198.5" x2="200.1" y1="44.16" y2="44.16" stroke="#707070" stroke-width="0.8"/>
<text x="196.50" y="46.51" font-size="5.0" fill="#4a4a4a" text-anchor="end">0.03</text>
<line x1="198.5" x2="200.1" y1="28.18" y2="28.18" stroke="#707070" stroke-width="0.8"/>
<text x="196.50" y="30.53" font-size="5.0" fill="#4a4a4a" text-anchor="end">0.04</text>
<line x1="205.30" x2="205.30" y1="95.8" y2="97.39999999999999" stroke="#707070" stroke-width="0.8"/>
<text x="205.30" y="103.30" font-size="5.25" fill="#4a4a4a" text-anchor="middle">0</text>
<line x1="242.98" x2="242.98" y1="95.8" y2="97.39999999999999" stroke="#707070" stroke-width="0.8"/>
<text x="242.98" y="103.30" font-size="5.25" fill="#4a4a4a" text-anchor="middle">25</text>
<line x1="280.65" x2="280.65" y1="95.8" y2="97.39999999999999" stroke="#707070" stroke-width="0.8"/>
<text x="280.65" y="103.30" font-size="5.25" fill="#4a4a4a" text-anchor="middle">50</text>
<line x1="318.32" x2="318.32" y1="95.8" y2="97.39999999999999" stroke="#707070" stroke-width="0.8"/>
<text x="318.32" y="103.30" font-size="5.25" fill="#4a4a4a" text-anchor="middle">75</text>
<text x="272.90" y="111.75" font-size="6.4" fill="#111" stroke="#111" stroke-width="0.12" text-anchor="middle">Tuber size (mm)</text>
<text transform="translate(183.20 54.20) rotate(-90)" font-size="6.45" fill="#151515" text-anchor="middle">Probability density</text>
<text x="176.1" y="15.1" font-size="6.1" fill="#111" stroke="#111" stroke-width="0.12">(<tspan font-style="italic">b</tspan>)</text>
</g>
<g id="panel-c">
<path d="M67.03 198.70 V189.90 H82.09 V160.40 H97.16 V141.10 H112.23 V167.30 H127.31 V198.70 Z" fill="#404040"/>
<line x1="30.56" x2="164.98" y1="198.70" y2="198.70" stroke="#000" stroke-width="0.95"/>
<path d="M68.32 198.43 L68.77 198.38 L69.22 198.32 L69.67 198.26 L70.12 198.18 L70.57 198.10 L71.02 198.00 L71.47 197.90 L71.92 197.77 L72.37 197.64 L72.82 197.48 L73.27 197.31 L73.72 197.12 L74.16 196.91 L74.61 196.68 L75.06 196.43 L75.51 196.15 L75.96 195.84 L76.41 195.51 L76.86 195.14 L77.31 194.75 L77.76 194.32 L78.21 193.87 L78.66 193.37 L79.11 192.84 L79.56 192.28 L80.01 191.67 L80.46 191.03 L80.91 190.35 L81.36 189.63 L81.81 188.87 L82.26 188.07 L82.71 187.23 L83.16 186.35 L83.61 185.43 L84.06 184.46 L84.51 183.47 L84.95 182.43 L85.40 181.36 L85.85 180.25 L86.30 179.11 L86.75 177.93 L87.20 176.73 L87.65 175.50 L88.10 174.24 L88.55 172.97 L89.00 171.67 L89.45 170.35 L89.90 169.03 L90.35 167.69 L90.80 166.34 L91.25 164.99 L91.70 163.64 L92.15 162.29 L92.60 160.95 L93.05 159.61 L93.50 158.30 L93.95 156.99 L94.40 155.71 L94.85 154.46 L95.30 153.23 L95.74 152.03 L96.19 150.87 L96.64 149.75 L97.09 148.66 L97.54 147.62 L97.99 146.63 L98.44 145.68 L98.89 144.79 L99.34 143.95 L99.79 143.17 L100.24 142.44 L100.69 141.78 L101.14 141.17 L101.59 140.63 L102.04 140.15 L102.49 139.73 L102.94 139.38 L103.39 139.10 L103.84 138.87 L104.29 138.72 L104.74 138.63 L105.19 138.60 L105.64 138.64 L106.09 138.74 L106.53 138.90 L106.98 139.12 L107.43 139.40 L107.88 139.74 L108.33 140.13 L108.78 140.58 L109.23 141.08 L109.68 141.63 L110.13 142.23 L110.58 142.87 L111.03 143.56 L111.48 144.29 L111.93 145.05 L112.38 145.86 L112.83 146.69 L113.28 147.56 L113.73 148.46 L114.18 149.39 L114.63 150.33 L115.08 151.30 L115.53 152.29 L115.98 153.30 L116.43 154.32 L116.87 155.35 L117.32 156.39 L117.77 157.44 L118.22 158.49 L118.67 159.55 L119.12 160.61 L119.57 161.66 L120.02 162.72 L120.47 163.77 L120.92 164.82 L121.37 165.85 L121.82 166.88 L122.27 167.90 L122.72 168.91 L123.17 169.90 L123.62 170.88 L124.07 171.85 L124.52 172.80 L124.97 173.73 L125.42 174.64 L125.87 175.54 L126.32 176.42 L126.77 177.28 L127.22 178.12 L127.66 178.93 L128.11 179.73 L128.56 180.51 L129.01 181.26 L129.46 182.00 L129.91 182.71 L130.36 183.40 L130.81 184.08 L131.26 184.73 L131.71 185.35 L132.16 185.96 L132.61 186.55 L133.06 187.12 L133.51 187.66 L133.96 188.19 L134.41 188.70 L134.86 189.18 L135.31 189.65 L135.76 190.10 L136.21 190.54 L136.66 190.95 L137.11 191.35 L137.56 191.73 L138.01 192.09 L138.45 192.44 L138.90 192.78 L139.35 193.09 L139.80 193.40 L140.25 193.69 L140.70 193.96 L141.15 194.23 L141.60 194.48 L142.05 194.72 L142.50 194.94 L142.95 195.16 L143.40 195.37 L143.85 195.56 L144.30 195.74 L144.75 195.92 L145.20 196.09 L145.65 196.24 L146.10 196.39 L146.55 196.53 L147.00 196.66 L147.45 196.79 L147.90 196.91 L148.35 197.02 L148.80 197.13 L149.24 197.23 L149.69 197.32 L150.14 197.41 L150.59 197.49 L151.04 197.57 L151.49 197.64 L151.94 197.71 L152.39 197.78 L152.84 197.84 L153.29 197.90 L153.74 197.95 L154.19 198.00 L154.64 198.05 L155.09 198.09 L155.54 198.14 L155.99 198.17 L156.44 198.21 L156.89 198.24 L157.34 198.28 L157.79 198.31 L158.24 198.33 L158.69 198.36 L159.14 198.38 L159.59 198.41" fill="none" stroke="#000" stroke-width="0.95"/>
<path d="M63.37 198.42 L63.82 198.38 L64.27 198.34 L64.72 198.29 L65.17 198.24 L65.62 198.18 L66.07 198.12 L66.52 198.05 L66.97 197.97 L67.42 197.88 L67.87 197.79 L68.32 197.68 L68.77 197.57 L69.22 197.44 L69.67 197.30 L70.12 197.15 L70.57 196.98 L71.02 196.80 L71.47 196.60 L71.92 196.38 L72.37 196.14 L72.82 195.89 L73.27 195.61 L73.72 195.31 L74.16 194.98 L74.61 194.63 L75.06 194.26 L75.51 193.85 L75.96 193.42 L76.41 192.95 L76.86 192.45 L77.31 191.92 L77.76 191.36 L78.21 190.76 L78.66 190.12 L79.11 189.44 L79.56 188.73 L80.01 187.97 L80.46 187.17 L80.91 186.33 L81.36 185.45 L81.81 184.53 L82.26 183.56 L82.71 182.55 L83.16 181.49 L83.61 180.39 L84.06 179.25 L84.51 178.07 L84.95 176.84 L85.40 175.58 L85.85 174.27 L86.30 172.93 L86.75 171.56 L87.20 170.15 L87.65 168.70 L88.10 167.24 L88.55 165.74 L89.00 164.22 L89.45 162.68 L89.90 161.13 L90.35 159.57 L90.80 157.99 L91.25 156.42 L91.70 154.84 L92.15 153.27 L92.60 151.71 L93.05 150.16 L93.50 148.63 L93.95 147.13 L94.40 145.66 L94.85 144.22 L95.30 142.82 L95.74 141.46 L96.19 140.16 L96.64 138.91 L97.09 137.71 L97.54 136.58 L97.99 135.52 L98.44 134.53 L98.89 133.62 L99.34 132.79 L99.79 132.04 L100.24 131.37 L100.69 130.79 L101.14 130.31 L101.59 129.92 L102.04 129.62 L102.49 129.42 L102.94 129.32 L103.39 129.31 L103.84 129.40 L104.29 129.59 L104.74 129.87 L105.19 130.25 L105.64 130.72 L106.09 131.29 L106.53 131.94 L106.98 132.68 L107.43 133.50 L107.88 134.41 L108.33 135.39 L108.78 136.44 L109.23 137.56 L109.68 138.74 L110.13 139.99 L110.58 141.28 L111.03 142.63 L111.48 144.03 L111.93 145.46 L112.38 146.93 L112.83 148.43 L113.28 149.96 L113.73 151.50 L114.18 153.06 L114.63 154.63 L115.08 156.21 L115.53 157.78 L115.98 159.36 L116.43 160.92 L116.87 162.48 L117.32 164.02 L117.77 165.54 L118.22 167.04 L118.67 168.51 L119.12 169.95 L119.57 171.37 L120.02 172.75 L120.47 174.10 L120.92 175.40 L121.37 176.67 L121.82 177.90 L122.27 179.09 L122.72 180.24 L123.17 181.34 L123.62 182.41 L124.07 183.42 L124.52 184.40 L124.97 185.33 L125.42 186.22 L125.87 187.06 L126.32 187.86 L126.77 188.63 L127.22 189.35 L127.66 190.03 L128.11 190.67 L128.56 191.28 L129.01 191.85 L129.46 192.39 L129.91 192.89 L130.36 193.36 L130.81 193.79 L131.26 194.20 L131.71 194.58 L132.16 194.94 L132.61 195.26 L133.06 195.57 L133.51 195.85 L133.96 196.11 L134.41 196.35 L134.86 196.57 L135.31 196.77 L135.76 196.96 L136.21 197.12 L136.66 197.28 L137.11 197.42 L137.56 197.55 L138.01 197.67 L138.45 197.78 L138.90 197.87 L139.35 197.96 L139.80 198.04 L140.25 198.11 L140.70 198.18 L141.15 198.23 L141.60 198.29 L142.05 198.33 L142.50 198.38 L142.95 198.41" fill="none" stroke="#000" stroke-width="0.95" stroke-dasharray="3 2"/>
<path d="M53.48 198.41 L53.93 198.37 L54.38 198.34 L54.83 198.30 L55.28 198.26 L55.73 198.22 L56.18 198.18 L56.63 198.13 L57.08 198.07 L57.53 198.01 L57.98 197.95 L58.43 197.89 L58.88 197.82 L59.33 197.74 L59.78 197.66 L60.23 197.57 L60.68 197.48 L61.13 197.38 L61.58 197.28 L62.03 197.17 L62.48 197.05 L62.93 196.93 L63.37 196.80 L63.82 196.65 L64.27 196.51 L64.72 196.35 L65.17 196.18 L65.62 196.01 L66.07 195.82 L66.52 195.63 L66.97 195.42 L67.42 195.21 L67.87 194.98 L68.32 194.74 L68.77 194.49 L69.22 194.22 L69.67 193.95 L70.12 193.66 L70.57 193.35 L71.02 193.03 L71.47 192.70 L71.92 192.35 L72.37 191.99 L72.82 191.61 L73.27 191.21 L73.72 190.80 L74.16 190.37 L74.61 189.92 L75.06 189.45 L75.51 188.97 L75.96 188.46 L76.41 187.94 L76.86 187.39 L77.31 186.83 L77.76 186.25 L78.21 185.64 L78.66 185.02 L79.11 184.37 L79.56 183.70 L80.01 183.01 L80.46 182.30 L80.91 181.56 L81.36 180.80 L81.81 180.03 L82.26 179.22 L82.71 178.40 L83.16 177.56 L83.61 176.69 L84.06 175.80 L84.51 174.89 L84.95 173.96 L85.40 173.01 L85.85 172.04 L86.30 171.05 L86.75 170.04 L87.20 169.01 L87.65 167.97 L88.10 166.91 L88.55 165.83 L89.00 164.74 L89.45 163.64 L89.90 162.53 L90.35 161.40 L90.80 160.27 L91.25 159.13 L91.70 157.99 L92.15 156.85 L92.60 155.70 L93.05 154.56 L93.50 153.42 L93.95 152.28 L94.40 151.15 L94.85 150.04 L95.30 148.94 L95.74 147.85 L96.19 146.78 L96.64 145.74 L97.09 144.72 L97.54 143.73 L97.99 142.77 L98.44 141.85 L98.89 140.96 L99.34 140.12 L99.79 139.32 L100.24 138.56 L100.69 137.86 L101.14 137.21 L101.59 136.62 L102.04 136.09 L102.49 135.63 L102.94 135.23 L103.39 134.89 L103.84 134.63 L104.29 134.45 L104.74 134.33 L105.19 134.30 L105.64 134.35 L106.09 134.47 L106.53 134.68 L106.98 134.98 L107.43 135.35 L107.88 135.81 L108.33 136.36 L108.78 136.98 L109.23 137.69 L109.68 138.48 L110.13 139.36 L110.58 140.31 L111.03 141.33 L111.48 142.43 L111.93 143.60 L112.38 144.83 L112.83 146.13 L113.28 147.49 L113.73 148.90 L114.18 150.36 L114.63 151.87 L115.08 153.41 L115.53 154.99 L115.98 156.60 L116.43 158.24 L116.87 159.88 L117.32 161.55 L117.77 163.21 L118.22 164.88 L118.67 166.54 L119.12 168.19 L119.57 169.82 L120.02 171.43 L120.47 173.02 L120.92 174.57 L121.37 176.09 L121.82 177.56 L122.27 178.99 L122.72 180.38 L123.17 181.71 L123.62 182.99 L124.07 184.22 L124.52 185.39 L124.97 186.50 L125.42 187.55 L125.87 188.55 L126.32 189.48 L126.77 190.36 L127.22 191.17 L127.66 191.93 L128.11 192.64 L128.56 193.29 L129.01 193.88 L129.46 194.43 L129.91 194.93 L130.36 195.38 L130.81 195.79 L131.26 196.16 L131.71 196.49 L132.16 196.79 L132.61 197.05 L133.06 197.28 L133.51 197.49 L133.96 197.67 L134.41 197.83 L134.86 197.96 L135.31 198.08 L135.76 198.18 L136.21 198.27 L136.66 198.34 L137.11 198.41" fill="none" stroke="#000" stroke-width="0.95" stroke-dasharray="1.5 1.5 3.7 1.5"/>
<path d="M56.63 198.42 L57.08 198.39 L57.53 198.36 L57.98 198.32 L58.43 198.28 L58.88 198.24 L59.33 198.19 L59.78 198.14 L60.23 198.08 L60.68 198.02 L61.13 197.96 L61.58 197.89 L62.03 197.81 L62.48 197.73 L62.93 197.65 L63.37 197.55 L63.82 197.45 L64.27 197.34 L64.72 197.23 L65.17 197.10 L65.62 196.97 L66.07 196.83 L66.52 196.68 L66.97 196.51 L67.42 196.34 L67.87 196.16 L68.32 195.96 L68.77 195.76 L69.22 195.53 L69.67 195.30 L70.12 195.05 L70.57 194.79 L71.02 194.51 L71.47 194.21 L71.92 193.90 L72.37 193.57 L72.82 193.22 L73.27 192.85 L73.72 192.46 L74.16 192.06 L74.61 191.63 L75.06 191.17 L75.51 190.70 L75.96 190.20 L76.41 189.67 L76.86 189.12 L77.31 188.55 L77.76 187.94 L78.21 187.31 L78.66 186.65 L79.11 185.96 L79.56 185.24 L80.01 184.49 L80.46 183.71 L80.91 182.90 L81.36 182.05 L81.81 181.17 L82.26 180.26 L82.71 179.31 L83.16 178.33 L83.61 177.31 L84.06 176.26 L84.51 175.17 L84.95 174.05 L85.40 172.89 L85.85 171.70 L86.30 170.48 L86.75 169.22 L87.20 167.93 L87.65 166.61 L88.10 165.25 L88.55 163.87 L89.00 162.46 L89.45 161.02 L89.90 159.56 L90.35 158.07 L90.80 156.57 L91.25 155.04 L91.70 153.50 L92.15 151.95 L92.60 150.39 L93.05 148.83 L93.50 147.26 L93.95 145.70 L94.40 144.14 L94.85 142.60 L95.30 141.07 L95.74 139.56 L96.19 138.08 L96.64 136.64 L97.09 135.23 L97.54 133.86 L97.99 132.55 L98.44 131.29 L98.89 130.10 L99.34 128.97 L99.79 127.92 L100.24 126.96 L100.69 126.08 L101.14 125.29 L101.59 124.61 L102.04 124.03 L102.49 123.57 L102.94 123.22 L103.39 123.00 L103.84 122.90 L104.29 122.94 L104.74 123.11 L105.19 123.41 L105.64 123.86 L106.09 124.44 L106.53 125.17 L106.98 126.03 L107.43 127.04 L107.88 128.18 L108.33 129.46 L108.78 130.87 L109.23 132.40 L109.68 134.06 L110.13 135.82 L110.58 137.69 L111.03 139.66 L111.48 141.72 L111.93 143.86 L112.38 146.06 L112.83 148.32 L113.28 150.63 L113.73 152.97 L114.18 155.33 L114.63 157.71 L115.08 160.08 L115.53 162.43 L115.98 164.76 L116.43 167.05 L116.87 169.30 L117.32 171.49 L117.77 173.61 L118.22 175.66 L118.67 177.63 L119.12 179.51 L119.57 181.30 L120.02 182.99 L120.47 184.58 L120.92 186.06 L121.37 187.45 L121.82 188.73 L122.27 189.91 L122.72 190.99 L123.17 191.97 L123.62 192.86 L124.07 193.66 L124.52 194.37 L124.97 195.01 L125.42 195.57 L125.87 196.06 L126.32 196.49 L126.77 196.86 L127.22 197.18 L127.66 197.45 L128.11 197.68 L128.56 197.87 L129.01 198.03 L129.46 198.17 L129.91 198.28 L130.36 198.37 L130.81 198.44" fill="none" stroke="#000" stroke-width="0.95" stroke-dasharray="1.1 1.5"/>
<path d="M24.4 119.20 V202.4 H172.00" fill="none" stroke="#707070" stroke-width="1.1"/>
<line x1="22.799999999999997" x2="24.4" y1="198.70" y2="198.70" stroke="#707070" stroke-width="0.8"/>
<text x="20.80" y="201.05" font-size="5.0" fill="#4a4a4a" text-anchor="end">0.00</text>
<line x1="22.799999999999997" x2="24.4" y1="171.00" y2="171.00" stroke="#707070" stroke-width="0.8"/>
<text x="20.80" y="173.35" font-size="5.0" fill="#4a4a4a" text-anchor="end">0.02</text>
<line x1="22.799999999999997" x2="24.4" y1="143.30" y2="143.30" stroke="#707070" stroke-width="0.8"/>
<text x="20.80" y="145.65" font-size="5.0" fill="#4a4a4a" text-anchor="end">0.04</text>
<line x1="29.35" x2="29.35" y1="202.4" y2="204.0" stroke="#707070" stroke-width="0.8"/>
<text x="29.35" y="209.90" font-size="5.25" fill="#4a4a4a" text-anchor="middle">0</text>
<line x1="67.03" x2="67.03" y1="202.4" y2="204.0" stroke="#707070" stroke-width="0.8"/>
<text x="67.03" y="209.90" font-size="5.25" fill="#4a4a4a" text-anchor="middle">25</text>
<line x1="104.70" x2="104.70" y1="202.4" y2="204.0" stroke="#707070" stroke-width="0.8"/>
<text x="104.70" y="209.90" font-size="5.25" fill="#4a4a4a" text-anchor="middle">50</text>
<line x1="142.38" x2="142.38" y1="202.4" y2="204.0" stroke="#707070" stroke-width="0.8"/>
<text x="142.38" y="209.90" font-size="5.25" fill="#4a4a4a" text-anchor="middle">75</text>
<text x="97.20" y="218.35" font-size="6.4" fill="#111" stroke="#111" stroke-width="0.12" text-anchor="middle">Tuber size (mm)</text>
<text transform="translate(7.50 160.80) rotate(-90)" font-size="6.45" fill="#151515" text-anchor="middle">Probability density</text>
<text x="2.2" y="121.6" font-size="6.1" fill="#111" stroke="#111" stroke-width="0.12">(<tspan font-style="italic">c</tspan>)</text>
</g>
<g id="panel-d">
<path d="M258.05 198.70 V183.00 H273.12 V126.20 H288.19 V153.60 H303.25 V170.10 H318.32 V198.70 Z" fill="#404040"/>
<line x1="206.51" x2="340.93" y1="198.70" y2="198.70" stroke="#000" stroke-width="0.95"/>
<path d="M247.87 198.42 L248.32 198.37 L248.77 198.32 L249.22 198.25 L249.67 198.18 L250.11 198.10 L250.56 198.00 L251.01 197.90 L251.46 197.78 L251.91 197.64 L252.36 197.49 L252.81 197.33 L253.26 197.14 L253.71 196.94 L254.16 196.71 L254.61 196.46 L255.06 196.19 L255.51 195.89 L255.96 195.57 L256.41 195.21 L256.86 194.83 L257.31 194.41 L257.76 193.96 L258.21 193.47 L258.66 192.95 L259.11 192.39 L259.56 191.79 L260.01 191.16 L260.46 190.48 L260.90 189.76 L261.35 189.00 L261.80 188.19 L262.25 187.34 L262.70 186.45 L263.15 185.52 L263.60 184.54 L264.05 183.51 L264.50 182.45 L264.95 181.34 L265.40 180.19 L265.85 179.01 L266.30 177.78 L266.75 176.52 L267.20 175.22 L267.65 173.89 L268.10 172.52 L268.55 171.13 L269.00 169.71 L269.45 168.27 L269.90 166.81 L270.35 165.33 L270.80 163.83 L271.25 162.33 L271.69 160.82 L272.14 159.30 L272.59 157.78 L273.04 156.27 L273.49 154.76 L273.94 153.27 L274.39 151.79 L274.84 150.32 L275.29 148.88 L275.74 147.47 L276.19 146.09 L276.64 144.74 L277.09 143.42 L277.54 142.15 L277.99 140.92 L278.44 139.74 L278.89 138.61 L279.34 137.53 L279.79 136.51 L280.24 135.54 L280.69 134.64 L281.14 133.79 L281.59 133.01 L282.04 132.30 L282.48 131.65 L282.93 131.08 L283.38 130.57 L283.83 130.13 L284.28 129.77 L284.73 129.47 L285.18 129.25 L285.63 129.10 L286.08 129.02 L286.53 129.00 L286.98 129.06 L287.43 129.19 L287.88 129.38 L288.33 129.65 L288.78 129.97 L289.23 130.36 L289.68 130.81 L290.13 131.32 L290.58 131.89 L291.03 132.51 L291.48 133.19 L291.93 133.91 L292.38 134.69 L292.82 135.51 L293.27 136.37 L293.72 137.27 L294.17 138.22 L294.62 139.19 L295.07 140.20 L295.52 141.24 L295.97 142.31 L296.42 143.40 L296.87 144.51 L297.32 145.65 L297.77 146.79 L298.22 147.96 L298.67 149.13 L299.12 150.32 L299.57 151.51 L300.02 152.71 L300.47 153.90 L300.92 155.10 L301.37 156.30 L301.82 157.50 L302.27 158.69 L302.72 159.87 L303.17 161.04 L303.61 162.20 L304.06 163.36 L304.51 164.49 L304.96 165.62 L305.41 166.73 L305.86 167.82 L306.31 168.89 L306.76 169.94 L307.21 170.98 L307.66 171.99 L308.11 172.99 L308.56 173.96 L309.01 174.91 L309.46 175.84 L309.91 176.74 L310.36 177.63 L310.81 178.48 L311.26 179.32 L311.71 180.13 L312.16 180.92 L312.61 181.68 L313.06 182.42 L313.51 183.14 L313.96 183.83 L314.40 184.50 L314.85 185.15 L315.30 185.78 L315.75 186.38 L316.20 186.96 L316.65 187.52 L317.10 188.06 L317.55 188.58 L318.00 189.08 L318.45 189.56 L318.90 190.02 L319.35 190.46 L319.80 190.88 L320.25 191.28 L320.70 191.67 L321.15 192.04 L321.60 192.39 L322.05 192.73 L322.50 193.05 L322.95 193.36 L323.40 193.65 L323.85 193.93 L324.30 194.20 L324.75 194.45 L325.19 194.69 L325.64 194.92 L326.09 195.14 L326.54 195.35 L326.99 195.54 L327.44 195.73 L327.89 195.90 L328.34 196.07 L328.79 196.23 L329.24 196.38 L329.69 196.52 L330.14 196.65 L330.59 196.78 L331.04 196.90 L331.49 197.01 L331.94 197.12 L332.39 197.22 L332.84 197.31 L333.29 197.40 L333.74 197.48 L334.19 197.56 L334.64 197.64 L335.09 197.71 L335.54 197.77 L335.98 197.83 L336.43 197.89 L336.88 197.94 L337.33 198.00 L337.78 198.04 L338.23 198.09 L338.68 198.13 L339.13 198.17 L339.58 198.21 L340.03 198.24 L340.48 198.27 L340.93 198.30" fill="none" stroke="#000" stroke-width="0.95"/>
<path d="M242.47 198.42 L242.92 198.39 L243.37 198.35 L243.82 198.32 L244.27 198.28 L244.72 198.23 L245.17 198.18 L245.62 198.12 L246.07 198.06 L246.52 198.00 L246.97 197.93 L247.42 197.85 L247.87 197.77 L248.32 197.67 L248.77 197.57 L249.22 197.47 L249.67 197.35 L250.11 197.22 L250.56 197.08 L251.01 196.94 L251.46 196.78 L251.91 196.60 L252.36 196.42 L252.81 196.22 L253.26 196.01 L253.71 195.78 L254.16 195.53 L254.61 195.27 L255.06 194.99 L255.51 194.69 L255.96 194.38 L256.41 194.04 L256.86 193.68 L257.31 193.29 L257.76 192.89 L258.21 192.46 L258.66 192.01 L259.11 191.53 L259.56 191.02 L260.01 190.49 L260.46 189.93 L260.90 189.34 L261.35 188.72 L261.80 188.07 L262.25 187.39 L262.70 186.68 L263.15 185.94 L263.60 185.16 L264.05 184.36 L264.50 183.52 L264.95 182.65 L265.40 181.74 L265.85 180.81 L266.30 179.84 L266.75 178.84 L267.20 177.81 L267.65 176.74 L268.10 175.65 L268.55 174.53 L269.00 173.38 L269.45 172.20 L269.90 170.99 L270.35 169.76 L270.80 168.51 L271.25 167.23 L271.69 165.94 L272.14 164.63 L272.59 163.30 L273.04 161.95 L273.49 160.60 L273.94 159.23 L274.39 157.86 L274.84 156.48 L275.29 155.10 L275.74 153.73 L276.19 152.36 L276.64 150.99 L277.09 149.64 L277.54 148.30 L277.99 146.97 L278.44 145.67 L278.89 144.38 L279.34 143.13 L279.79 141.90 L280.24 140.71 L280.69 139.55 L281.14 138.44 L281.59 137.36 L282.04 136.33 L282.48 135.35 L282.93 134.41 L283.38 133.53 L283.83 132.71 L284.28 131.95 L284.73 131.24 L285.18 130.60 L285.63 130.02 L286.08 129.51 L286.53 129.07 L286.98 128.70 L287.43 128.40 L287.88 128.16 L288.33 128.00 L288.78 127.92 L289.23 127.90 L289.68 127.96 L290.13 128.09 L290.58 128.30 L291.03 128.57 L291.48 128.92 L291.93 129.34 L292.38 129.82 L292.82 130.37 L293.27 130.99 L293.72 131.67 L294.17 132.41 L294.62 133.21 L295.07 134.07 L295.52 134.98 L295.97 135.95 L296.42 136.96 L296.87 138.02 L297.32 139.12 L297.77 140.27 L298.22 141.45 L298.67 142.66 L299.12 143.90 L299.57 145.17 L300.02 146.47 L300.47 147.79 L300.92 149.12 L301.37 150.47 L301.82 151.83 L302.27 153.20 L302.72 154.58 L303.17 155.96 L303.61 157.33 L304.06 158.71 L304.51 160.08 L304.96 161.44 L305.41 162.78 L305.86 164.12 L306.31 165.44 L306.76 166.74 L307.21 168.03 L307.66 169.29 L308.11 170.53 L308.56 171.74 L309.01 172.93 L309.46 174.09 L309.91 175.23 L310.36 176.33 L310.81 177.41 L311.26 178.45 L311.71 179.46 L312.16 180.44 L312.61 181.39 L313.06 182.31 L313.51 183.19 L313.96 184.04 L314.40 184.86 L314.85 185.65 L315.30 186.40 L315.75 187.12 L316.20 187.81 L316.65 188.47 L317.10 189.11 L317.55 189.71 L318.00 190.28 L318.45 190.82 L318.90 191.34 L319.35 191.83 L319.80 192.29 L320.25 192.73 L320.70 193.14 L321.15 193.53 L321.60 193.90 L322.05 194.25 L322.50 194.57 L322.95 194.88 L323.40 195.17 L323.85 195.44 L324.30 195.69 L324.75 195.92 L325.19 196.14 L325.64 196.35 L326.09 196.54 L326.54 196.71 L326.99 196.88 L327.44 197.03 L327.89 197.17 L328.34 197.30 L328.79 197.42 L329.24 197.53 L329.69 197.64 L330.14 197.73 L330.59 197.82 L331.04 197.90 L331.49 197.97 L331.94 198.04 L332.39 198.10 L332.84 198.16 L333.29 198.21 L333.74 198.26 L334.19 198.30 L334.64 198.34 L335.09 198.38 L335.54 198.41" fill="none" stroke="#000" stroke-width="0.95" stroke-dasharray="3 2"/>
<path d="M234.38 198.43 L234.83 198.40 L235.28 198.37 L235.73 198.34 L236.18 198.31 L236.63 198.28 L237.08 198.24 L237.53 198.20 L237.98 198.16 L238.43 198.11 L238.88 198.06 L239.32 198.01 L239.77 197.95 L240.22 197.90 L240.67 197.83 L241.12 197.77 L241.57 197.70 L242.02 197.62 L242.47 197.54 L242.92 197.46 L243.37 197.37 L243.82 197.27 L244.27 197.17 L244.72 197.06 L245.17 196.95 L245.62 196.83 L246.07 196.71 L246.52 196.58 L246.97 196.44 L247.42 196.29 L247.87 196.14 L248.32 195.97 L248.77 195.80 L249.22 195.63 L249.67 195.44 L250.11 195.24 L250.56 195.03 L251.01 194.82 L251.46 194.59 L251.91 194.35 L252.36 194.10 L252.81 193.84 L253.26 193.57 L253.71 193.29 L254.16 192.99 L254.61 192.68 L255.06 192.36 L255.51 192.02 L255.96 191.67 L256.41 191.30 L256.86 190.92 L257.31 190.53 L257.76 190.12 L258.21 189.69 L258.66 189.25 L259.11 188.79 L259.56 188.31 L260.01 187.82 L260.46 187.30 L260.90 186.77 L261.35 186.22 L261.80 185.65 L262.25 185.06 L262.70 184.46 L263.15 183.83 L263.60 183.18 L264.05 182.51 L264.50 181.83 L264.95 181.12 L265.40 180.39 L265.85 179.63 L266.30 178.86 L266.75 178.07 L267.20 177.25 L267.65 176.42 L268.10 175.56 L268.55 174.68 L269.00 173.78 L269.45 172.86 L269.90 171.92 L270.35 170.96 L270.80 169.98 L271.25 168.98 L271.69 167.96 L272.14 166.92 L272.59 165.87 L273.04 164.79 L273.49 163.71 L273.94 162.60 L274.39 161.48 L274.84 160.35 L275.29 159.21 L275.74 158.06 L276.19 156.89 L276.64 155.72 L277.09 154.54 L277.54 153.36 L277.99 152.17 L278.44 150.99 L278.89 149.80 L279.34 148.61 L279.79 147.43 L280.24 146.26 L280.69 145.10 L281.14 143.94 L281.59 142.80 L282.04 141.68 L282.48 140.58 L282.93 139.50 L283.38 138.44 L283.83 137.41 L284.28 136.41 L284.73 135.44 L285.18 134.51 L285.63 133.62 L286.08 132.77 L286.53 131.97 L286.98 131.22 L287.43 130.51 L287.88 129.86 L288.33 129.27 L288.78 128.74 L289.23 128.27 L289.68 127.86 L290.13 127.52 L290.58 127.26 L291.03 127.06 L291.48 126.94 L291.93 126.90 L292.38 126.93 L292.82 127.05 L293.27 127.24 L293.72 127.52 L294.17 127.88 L294.62 128.32 L295.07 128.85 L295.52 129.46 L295.97 130.15 L296.42 130.92 L296.87 131.77 L297.32 132.71 L297.77 133.72 L298.22 134.80 L298.67 135.96 L299.12 137.19 L299.57 138.48 L300.02 139.84 L300.47 141.26 L300.92 142.73 L301.37 144.26 L301.82 145.83 L302.27 147.44 L302.72 149.09 L303.17 150.77 L303.61 152.48 L304.06 154.21 L304.51 155.96 L304.96 157.72 L305.41 159.48 L305.86 161.24 L306.31 162.99 L306.76 164.74 L307.21 166.47 L307.66 168.17 L308.11 169.85 L308.56 171.50 L309.01 173.11 L309.46 174.69 L309.91 176.22 L310.36 177.70 L310.81 179.14 L311.26 180.52 L311.71 181.85 L312.16 183.12 L312.61 184.34 L313.06 185.50 L313.51 186.60 L313.96 187.63 L314.40 188.61 L314.85 189.53 L315.30 190.39 L315.75 191.20 L316.20 191.94 L316.65 192.64 L317.10 193.27 L317.55 193.86 L318.00 194.40 L318.45 194.89 L318.90 195.34 L319.35 195.74 L319.80 196.11 L320.25 196.44 L320.70 196.73 L321.15 197.00 L321.60 197.23 L322.05 197.44 L322.50 197.62 L322.95 197.78 L323.40 197.92 L323.85 198.04 L324.30 198.14 L324.75 198.23 L325.19 198.31 L325.64 198.38 L326.09 198.43" fill="none" stroke="#000" stroke-width="0.95" stroke-dasharray="1.5 1.5 3.7 1.5"/>
<path d="M237.53 198.42 L237.98 198.40 L238.43 198.37 L238.88 198.34 L239.32 198.31 L239.77 198.28 L240.22 198.24 L240.67 198.20 L241.12 198.16 L241.57 198.11 L242.02 198.06 L242.47 198.01 L242.92 197.96 L243.37 197.90 L243.82 197.84 L244.27 197.77 L244.72 197.70 L245.17 197.63 L245.62 197.55 L246.07 197.46 L246.52 197.37 L246.97 197.28 L247.42 197.18 L247.87 197.07 L248.32 196.96 L248.77 196.84 L249.22 196.71 L249.67 196.58 L250.11 196.44 L250.56 196.29 L251.01 196.14 L251.46 195.97 L251.91 195.80 L252.36 195.62 L252.81 195.43 L253.26 195.23 L253.71 195.02 L254.16 194.80 L254.61 194.56 L255.06 194.32 L255.51 194.06 L255.96 193.80 L256.41 193.52 L256.86 193.22 L257.31 192.92 L257.76 192.60 L258.21 192.26 L258.66 191.91 L259.11 191.55 L259.56 191.17 L260.01 190.77 L260.46 190.36 L260.90 189.93 L261.35 189.48 L261.80 189.02 L262.25 188.53 L262.70 188.03 L263.15 187.51 L263.60 186.96 L264.05 186.40 L264.50 185.82 L264.95 185.21 L265.40 184.59 L265.85 183.94 L266.30 183.27 L266.75 182.58 L267.20 181.86 L267.65 181.12 L268.10 180.36 L268.55 179.57 L269.00 178.76 L269.45 177.93 L269.90 177.07 L270.35 176.19 L270.80 175.28 L271.25 174.35 L271.69 173.40 L272.14 172.42 L272.59 171.42 L273.04 170.39 L273.49 169.34 L273.94 168.27 L274.39 167.17 L274.84 166.06 L275.29 164.92 L275.74 163.77 L276.19 162.59 L276.64 161.39 L277.09 160.18 L277.54 158.95 L277.99 157.71 L278.44 156.45 L278.89 155.19 L279.34 153.91 L279.79 152.62 L280.24 151.33 L280.69 150.03 L281.14 148.73 L281.59 147.43 L282.04 146.13 L282.48 144.83 L282.93 143.54 L283.38 142.27 L283.83 141.00 L284.28 139.75 L284.73 138.53 L285.18 137.32 L285.63 136.14 L286.08 134.98 L286.53 133.86 L286.98 132.78 L287.43 131.74 L287.88 130.74 L288.33 129.78 L288.78 128.88 L289.23 128.03 L289.68 127.24 L290.13 126.51 L290.58 125.85 L291.03 125.26 L291.48 124.74 L291.93 124.29 L292.38 123.92 L292.82 123.64 L293.27 123.44 L293.72 123.33 L294.17 123.30 L294.62 123.37 L295.07 123.53 L295.52 123.79 L295.97 124.15 L296.42 124.60 L296.87 125.15 L297.32 125.79 L297.77 126.54 L298.22 127.38 L298.67 128.31 L299.12 129.34 L299.57 130.46 L300.02 131.67 L300.47 132.96 L300.92 134.34 L301.37 135.80 L301.82 137.33 L302.27 138.93 L302.72 140.59 L303.17 142.31 L303.61 144.09 L304.06 145.91 L304.51 147.78 L304.96 149.68 L305.41 151.60 L305.86 153.55 L306.31 155.51 L306.76 157.48 L307.21 159.44 L307.66 161.41 L308.11 163.35 L308.56 165.28 L309.01 167.18 L309.46 169.05 L309.91 170.88 L310.36 172.66 L310.81 174.40 L311.26 176.09 L311.71 177.71 L312.16 179.28 L312.61 180.78 L313.06 182.22 L313.51 183.59 L313.96 184.88 L314.40 186.11 L314.85 187.27 L315.30 188.35 L315.75 189.37 L316.20 190.31 L316.65 191.19 L317.10 191.99 L317.55 192.74 L318.00 193.42 L318.45 194.04 L318.90 194.61 L319.35 195.12 L319.80 195.58 L320.25 195.99 L320.70 196.36 L321.15 196.69 L321.60 196.98 L322.05 197.23 L322.50 197.45 L322.95 197.65 L323.40 197.81 L323.85 197.96 L324.30 198.08 L324.75 198.19 L325.19 198.28 L325.64 198.36 L326.09 198.42" fill="none" stroke="#000" stroke-width="0.95" stroke-dasharray="1.1 1.5"/>
<path d="M200.1 119.20 V202.4 H347.70" fill="none" stroke="#707070" stroke-width="1.1"/>
<line x1="198.5" x2="200.1" y1="198.70" y2="198.70" stroke="#707070" stroke-width="0.8"/>
<text x="196.50" y="201.05" font-size="5.0" fill="#4a4a4a" text-anchor="end">0.00</text>
<line x1="198.5" x2="200.1" y1="182.20" y2="182.20" stroke="#707070" stroke-width="0.8"/>
<text x="196.50" y="184.55" font-size="5.0" fill="#4a4a4a" text-anchor="end">0.01</text>
<line x1="198.5" x2="200.1" y1="165.70" y2="165.70" stroke="#707070" stroke-width="0.8"/>
<text x="196.50" y="168.05" font-size="5.0" fill="#4a4a4a" text-anchor="end">0.02</text>
<line x1="198.5" x2="200.1" y1="149.20" y2="149.20" stroke="#707070" stroke-width="0.8"/>
<text x="196.50" y="151.55" font-size="5.0" fill="#4a4a4a" text-anchor="end">0.03</text>
<line x1="198.5" x2="200.1" y1="132.70" y2="132.70" stroke="#707070" stroke-width="0.8"/>
<text x="196.50" y="135.05" font-size="5.0" fill="#4a4a4a" text-anchor="end">0.04</text>
<line x1="205.30" x2="205.30" y1="202.4" y2="204.0" stroke="#707070" stroke-width="0.8"/>
<text x="205.30" y="209.90" font-size="5.25" fill="#4a4a4a" text-anchor="middle">0</text>
<line x1="242.98" x2="242.98" y1="202.4" y2="204.0" stroke="#707070" stroke-width="0.8"/>
<text x="242.98" y="209.90" font-size="5.25" fill="#4a4a4a" text-anchor="middle">25</text>
<line x1="280.65" x2="280.65" y1="202.4" y2="204.0" stroke="#707070" stroke-width="0.8"/>
<text x="280.65" y="209.90" font-size="5.25" fill="#4a4a4a" text-anchor="middle">50</text>
<line x1="318.32" x2="318.32" y1="202.4" y2="204.0" stroke="#707070" stroke-width="0.8"/>
<text x="318.32" y="209.90" font-size="5.25" fill="#4a4a4a" text-anchor="middle">75</text>
<text x="272.90" y="218.35" font-size="6.4" fill="#111" stroke="#111" stroke-width="0.12" text-anchor="middle">Tuber size (mm)</text>
<text transform="translate(183.20 160.80) rotate(-90)" font-size="6.45" fill="#151515" text-anchor="middle">Probability density</text>
<text x="176.1" y="121.5" font-size="6.1" fill="#111" stroke="#111" stroke-width="0.12">(<tspan font-style="italic">d</tspan>)</text>
</g>
<g id="panel-e">
<path d="M67.03 305.00 V298.60 H97.16 V256.20 H127.31 V285.40 H157.44 V305.00 Z" fill="#404040"/>
<line x1="30.56" x2="164.98" y1="305.00" y2="305.00" stroke="#000" stroke-width="0.95"/>
<path d="M74.61 304.74 L75.06 304.70 L75.51 304.64 L75.96 304.59 L76.41 304.52 L76.86 304.44 L77.31 304.36 L77.76 304.26 L78.21 304.15 L78.66 304.03 L79.11 303.90 L79.56 303.75 L80.01 303.58 L80.46 303.40 L80.91 303.19 L81.36 302.97 L81.81 302.72 L82.26 302.45 L82.71 302.16 L83.16 301.84 L83.61 301.49 L84.06 301.11 L84.51 300.70 L84.95 300.27 L85.40 299.80 L85.85 299.29 L86.30 298.75 L86.75 298.18 L87.20 297.56 L87.65 296.91 L88.10 296.22 L88.55 295.50 L89.00 294.73 L89.45 293.92 L89.90 293.07 L90.35 292.19 L90.80 291.26 L91.25 290.30 L91.70 289.29 L92.15 288.25 L92.60 287.17 L93.05 286.06 L93.50 284.91 L93.95 283.73 L94.40 282.52 L94.85 281.28 L95.30 280.01 L95.74 278.72 L96.19 277.40 L96.64 276.07 L97.09 274.72 L97.54 273.36 L97.99 271.98 L98.44 270.60 L98.89 269.21 L99.34 267.82 L99.79 266.44 L100.24 265.06 L100.69 263.69 L101.14 262.33 L101.59 260.99 L102.04 259.66 L102.49 258.36 L102.94 257.09 L103.39 255.85 L103.84 254.64 L104.29 253.47 L104.74 252.34 L105.19 251.25 L105.64 250.20 L106.09 249.21 L106.53 248.26 L106.98 247.37 L107.43 246.53 L107.88 245.75 L108.33 245.03 L108.78 244.37 L109.23 243.77 L109.68 243.24 L110.13 242.77 L110.58 242.36 L111.03 242.02 L111.48 241.75 L111.93 241.54 L112.38 241.39 L112.83 241.32 L113.28 241.30 L113.73 241.36 L114.18 241.47 L114.63 241.65 L115.08 241.89 L115.53 242.19 L115.98 242.55 L116.43 242.96 L116.87 243.43 L117.32 243.96 L117.77 244.53 L118.22 245.16 L118.67 245.83 L119.12 246.54 L119.57 247.30 L120.02 248.10 L120.47 248.94 L120.92 249.81 L121.37 250.71 L121.82 251.65 L122.27 252.61 L122.72 253.60 L123.17 254.61 L123.62 255.64 L124.07 256.68 L124.52 257.75 L124.97 258.82 L125.42 259.91 L125.87 261.00 L126.32 262.10 L126.77 263.21 L127.22 264.32 L127.66 265.43 L128.11 266.53 L128.56 267.63 L129.01 268.73 L129.46 269.82 L129.91 270.90 L130.36 271.97 L130.81 273.03 L131.26 274.08 L131.71 275.12 L132.16 276.13 L132.61 277.14 L133.06 278.12 L133.51 279.09 L133.96 280.04 L134.41 280.97 L134.86 281.88 L135.31 282.78 L135.76 283.65 L136.21 284.49 L136.66 285.32 L137.11 286.13 L137.56 286.91 L138.01 287.67 L138.45 288.41 L138.90 289.13 L139.35 289.83 L139.80 290.50 L140.25 291.15 L140.70 291.78 L141.15 292.39 L141.60 292.98 L142.05 293.55 L142.50 294.09 L142.95 294.62 L143.40 295.12 L143.85 295.61 L144.30 296.08 L144.75 296.53 L145.20 296.96 L145.65 297.37 L146.10 297.76 L146.55 298.14 L147.00 298.50 L147.45 298.85 L147.90 299.18 L148.35 299.50 L148.80 299.80 L149.24 300.09 L149.69 300.36 L150.14 300.62 L150.59 300.87 L151.04 301.10 L151.49 301.33 L151.94 301.54 L152.39 301.74 L152.84 301.93 L153.29 302.12 L153.74 302.29 L154.19 302.45 L154.64 302.61 L155.09 302.75 L155.54 302.89 L155.99 303.02 L156.44 303.14 L156.89 303.26 L157.34 303.37 L157.79 303.47 L158.24 303.57 L158.69 303.66 L159.14 303.75 L159.59 303.83 L160.03 303.91 L160.48 303.98 L160.93 304.05 L161.38 304.11 L161.83 304.17 L162.28 304.23 L162.73 304.28 L163.18 304.33 L163.63 304.37 L164.08 304.42 L164.53 304.46 L164.98 304.49" fill="none" stroke="#000" stroke-width="0.95"/>
<path d="M73.72 304.71 L74.16 304.68 L74.61 304.64 L75.06 304.60 L75.51 304.55 L75.96 304.50 L76.41 304.45 L76.86 304.39 L77.31 304.32 L77.76 304.25 L78.21 304.17 L78.66 304.08 L79.11 303.98 L79.56 303.88 L80.01 303.76 L80.46 303.64 L80.91 303.51 L81.36 303.36 L81.81 303.20 L82.26 303.03 L82.71 302.85 L83.16 302.65 L83.61 302.43 L84.06 302.20 L84.51 301.95 L84.95 301.68 L85.40 301.40 L85.85 301.09 L86.30 300.76 L86.75 300.41 L87.20 300.04 L87.65 299.64 L88.10 299.22 L88.55 298.77 L89.00 298.29 L89.45 297.79 L89.90 297.26 L90.35 296.69 L90.80 296.10 L91.25 295.48 L91.70 294.82 L92.15 294.13 L92.60 293.41 L93.05 292.65 L93.50 291.86 L93.95 291.03 L94.40 290.17 L94.85 289.27 L95.30 288.34 L95.74 287.38 L96.19 286.38 L96.64 285.34 L97.09 284.27 L97.54 283.17 L97.99 282.04 L98.44 280.88 L98.89 279.68 L99.34 278.46 L99.79 277.21 L100.24 275.94 L100.69 274.64 L101.14 273.32 L101.59 271.98 L102.04 270.63 L102.49 269.26 L102.94 267.88 L103.39 266.49 L103.84 265.09 L104.29 263.69 L104.74 262.29 L105.19 260.89 L105.64 259.50 L106.09 258.13 L106.53 256.76 L106.98 255.41 L107.43 254.09 L107.88 252.79 L108.33 251.51 L108.78 250.27 L109.23 249.06 L109.68 247.90 L110.13 246.77 L110.58 245.70 L111.03 244.67 L111.48 243.69 L111.93 242.78 L112.38 241.92 L112.83 241.12 L113.28 240.38 L113.73 239.72 L114.18 239.12 L114.63 238.59 L115.08 238.14 L115.53 237.76 L115.98 237.46 L116.43 237.23 L116.87 237.08 L117.32 237.01 L117.77 237.01 L118.22 237.10 L118.67 237.26 L119.12 237.50 L119.57 237.82 L120.02 238.21 L120.47 238.68 L120.92 239.22 L121.37 239.83 L121.82 240.51 L122.27 241.25 L122.72 242.06 L123.17 242.93 L123.62 243.86 L124.07 244.85 L124.52 245.88 L124.97 246.97 L125.42 248.10 L125.87 249.28 L126.32 250.49 L126.77 251.73 L127.22 253.01 L127.66 254.32 L128.11 255.65 L128.56 257.00 L129.01 258.37 L129.46 259.75 L129.91 261.14 L130.36 262.54 L130.81 263.94 L131.26 265.34 L131.71 266.73 L132.16 268.12 L132.61 269.50 L133.06 270.87 L133.51 272.22 L133.96 273.56 L134.41 274.87 L134.86 276.16 L135.31 277.43 L135.76 278.68 L136.21 279.90 L136.66 281.08 L137.11 282.24 L137.56 283.37 L138.01 284.47 L138.45 285.53 L138.90 286.56 L139.35 287.55 L139.80 288.51 L140.25 289.43 L140.70 290.32 L141.15 291.18 L141.60 292.00 L142.05 292.78 L142.50 293.54 L142.95 294.25 L143.40 294.94 L143.85 295.59 L144.30 296.21 L144.75 296.80 L145.20 297.35 L145.65 297.88 L146.10 298.38 L146.55 298.85 L147.00 299.30 L147.45 299.71 L147.90 300.11 L148.35 300.48 L148.80 300.82 L149.24 301.15 L149.69 301.45 L150.14 301.73 L150.59 302.00 L151.04 302.24 L151.49 302.47 L151.94 302.68 L152.39 302.88 L152.84 303.06 L153.29 303.23 L153.74 303.39 L154.19 303.53 L154.64 303.66 L155.09 303.79 L155.54 303.90 L155.99 304.00 L156.44 304.10 L156.89 304.18 L157.34 304.26 L157.79 304.33 L158.24 304.40 L158.69 304.46 L159.14 304.51 L159.59 304.56 L160.03 304.61 L160.48 304.65 L160.93 304.69 L161.38 304.72" fill="none" stroke="#000" stroke-width="0.95" stroke-dasharray="3 2"/>
<path d="M64.72 304.70 L65.17 304.68 L65.62 304.65 L66.07 304.62 L66.52 304.58 L66.97 304.55 L67.42 304.51 L67.87 304.47 L68.32 304.43 L68.77 304.38 L69.22 304.33 L69.67 304.27 L70.12 304.22 L70.57 304.16 L71.02 304.09 L71.47 304.02 L71.92 303.95 L72.37 303.87 L72.82 303.79 L73.27 303.70 L73.72 303.60 L74.16 303.51 L74.61 303.40 L75.06 303.29 L75.51 303.17 L75.96 303.04 L76.41 302.91 L76.86 302.77 L77.31 302.62 L77.76 302.47 L78.21 302.30 L78.66 302.13 L79.11 301.95 L79.56 301.76 L80.01 301.55 L80.46 301.34 L80.91 301.12 L81.36 300.88 L81.81 300.64 L82.26 300.38 L82.71 300.11 L83.16 299.82 L83.61 299.52 L84.06 299.21 L84.51 298.88 L84.95 298.54 L85.40 298.18 L85.85 297.81 L86.30 297.42 L86.75 297.01 L87.20 296.59 L87.65 296.14 L88.10 295.68 L88.55 295.20 L89.00 294.70 L89.45 294.18 L89.90 293.64 L90.35 293.07 L90.80 292.49 L91.25 291.88 L91.70 291.25 L92.15 290.60 L92.60 289.92 L93.05 289.22 L93.50 288.50 L93.95 287.75 L94.40 286.98 L94.85 286.18 L95.30 285.36 L95.74 284.51 L96.19 283.64 L96.64 282.74 L97.09 281.81 L97.54 280.86 L97.99 279.89 L98.44 278.88 L98.89 277.86 L99.34 276.81 L99.79 275.73 L100.24 274.63 L100.69 273.51 L101.14 272.37 L101.59 271.20 L102.04 270.01 L102.49 268.81 L102.94 267.59 L103.39 266.34 L103.84 265.09 L104.29 263.82 L104.74 262.54 L105.19 261.24 L105.64 259.94 L106.09 258.64 L106.53 257.33 L106.98 256.02 L107.43 254.70 L107.88 253.40 L108.33 252.10 L108.78 250.81 L109.23 249.54 L109.68 248.28 L110.13 247.04 L110.58 245.83 L111.03 244.64 L111.48 243.49 L111.93 242.37 L112.38 241.29 L112.83 240.26 L113.28 239.27 L113.73 238.34 L114.18 237.46 L114.63 236.65 L115.08 235.90 L115.53 235.21 L115.98 234.61 L116.43 234.07 L116.87 233.62 L117.32 233.26 L117.77 232.98 L118.22 232.80 L118.67 232.71 L119.12 232.72 L119.57 232.82 L120.02 233.03 L120.47 233.34 L120.92 233.76 L121.37 234.28 L121.82 234.91 L122.27 235.64 L122.72 236.48 L123.17 237.42 L123.62 238.46 L124.07 239.61 L124.52 240.84 L124.97 242.18 L125.42 243.60 L125.87 245.10 L126.32 246.69 L126.77 248.35 L127.22 250.07 L127.66 251.86 L128.11 253.71 L128.56 255.60 L129.01 257.53 L129.46 259.49 L129.91 261.48 L130.36 263.49 L130.81 265.50 L131.26 267.51 L131.71 269.52 L132.16 271.51 L132.61 273.48 L133.06 275.42 L133.51 277.32 L133.96 279.17 L134.41 280.98 L134.86 282.73 L135.31 284.42 L135.76 286.04 L136.21 287.59 L136.66 289.08 L137.11 290.49 L137.56 291.82 L138.01 293.07 L138.45 294.25 L138.90 295.35 L139.35 296.37 L139.80 297.31 L140.25 298.18 L140.70 298.98 L141.15 299.70 L141.60 300.36 L142.05 300.96 L142.50 301.50 L142.95 301.98 L143.40 302.40 L143.85 302.78 L144.30 303.11 L144.75 303.40 L145.20 303.66 L145.65 303.88 L146.10 304.07 L146.55 304.23 L147.00 304.36 L147.45 304.48 L147.90 304.58 L148.35 304.66 L148.80 304.73" fill="none" stroke="#000" stroke-width="0.95" stroke-dasharray="1.5 1.5 3.7 1.5"/>
<path d="M66.52 304.72 L66.97 304.69 L67.42 304.66 L67.87 304.63 L68.32 304.60 L68.77 304.56 L69.22 304.53 L69.67 304.49 L70.12 304.44 L70.57 304.40 L71.02 304.35 L71.47 304.29 L71.92 304.24 L72.37 304.18 L72.82 304.11 L73.27 304.04 L73.72 303.97 L74.16 303.89 L74.61 303.81 L75.06 303.72 L75.51 303.63 L75.96 303.53 L76.41 303.42 L76.86 303.31 L77.31 303.19 L77.76 303.06 L78.21 302.93 L78.66 302.78 L79.11 302.63 L79.56 302.48 L80.01 302.31 L80.46 302.13 L80.91 301.94 L81.36 301.75 L81.81 301.54 L82.26 301.32 L82.71 301.09 L83.16 300.84 L83.61 300.59 L84.06 300.32 L84.51 300.04 L84.95 299.74 L85.40 299.43 L85.85 299.10 L86.30 298.76 L86.75 298.40 L87.20 298.02 L87.65 297.63 L88.10 297.22 L88.55 296.79 L89.00 296.34 L89.45 295.87 L89.90 295.38 L90.35 294.86 L90.80 294.33 L91.25 293.77 L91.70 293.19 L92.15 292.59 L92.60 291.96 L93.05 291.31 L93.50 290.63 L93.95 289.93 L94.40 289.20 L94.85 288.45 L95.30 287.66 L95.74 286.85 L96.19 286.01 L96.64 285.15 L97.09 284.25 L97.54 283.33 L97.99 282.37 L98.44 281.39 L98.89 280.38 L99.34 279.34 L99.79 278.27 L100.24 277.17 L100.69 276.05 L101.14 274.90 L101.59 273.71 L102.04 272.51 L102.49 271.27 L102.94 270.02 L103.39 268.74 L103.84 267.43 L104.29 266.11 L104.74 264.76 L105.19 263.40 L105.64 262.02 L106.09 260.62 L106.53 259.22 L106.98 257.80 L107.43 256.38 L107.88 254.95 L108.33 253.52 L108.78 252.10 L109.23 250.67 L109.68 249.26 L110.13 247.86 L110.58 246.48 L111.03 245.11 L111.48 243.77 L111.93 242.47 L112.38 241.19 L112.83 239.95 L113.28 238.76 L113.73 237.61 L114.18 236.52 L114.63 235.49 L115.08 234.52 L115.53 233.61 L115.98 232.79 L116.43 232.04 L116.87 231.37 L117.32 230.80 L117.77 230.31 L118.22 229.93 L118.67 229.65 L119.12 229.47 L119.57 229.40 L120.02 229.45 L120.47 229.61 L120.92 229.88 L121.37 230.28 L121.82 230.80 L122.27 231.44 L122.72 232.21 L123.17 233.09 L123.62 234.10 L124.07 235.22 L124.52 236.46 L124.97 237.81 L125.42 239.27 L125.87 240.83 L126.32 242.49 L126.77 244.24 L127.22 246.08 L127.66 247.99 L128.11 249.98 L128.56 252.03 L129.01 254.13 L129.46 256.27 L129.91 258.45 L130.36 260.65 L130.81 262.87 L131.26 265.09 L131.71 267.30 L132.16 269.50 L132.61 271.68 L133.06 273.82 L133.51 275.92 L133.96 277.97 L134.41 279.97 L134.86 281.89 L135.31 283.75 L135.76 285.53 L136.21 287.23 L136.66 288.85 L137.11 290.37 L137.56 291.81 L138.01 293.16 L138.45 294.41 L138.90 295.57 L139.35 296.65 L139.80 297.63 L140.25 298.54 L140.70 299.35 L141.15 300.09 L141.60 300.76 L142.05 301.35 L142.50 301.88 L142.95 302.35 L143.40 302.76 L143.85 303.11 L144.30 303.42 L144.75 303.69 L145.20 303.92 L145.65 304.11 L146.10 304.28 L146.55 304.41 L147.00 304.53 L147.45 304.62 L147.90 304.70" fill="none" stroke="#000" stroke-width="0.95" stroke-dasharray="1.1 1.5"/>
<path d="M24.4 225.80 V309.0 H172.00" fill="none" stroke="#707070" stroke-width="1.1"/>
<line x1="22.799999999999997" x2="24.4" y1="305.00" y2="305.00" stroke="#707070" stroke-width="0.8"/>
<text x="20.80" y="307.35" font-size="5.0" fill="#4a4a4a" text-anchor="end">0.00</text>
<line x1="22.799999999999997" x2="24.4" y1="290.02" y2="290.02" stroke="#707070" stroke-width="0.8"/>
<text x="20.80" y="292.37" font-size="5.0" fill="#4a4a4a" text-anchor="end">0.01</text>
<line x1="22.799999999999997" x2="24.4" y1="275.04" y2="275.04" stroke="#707070" stroke-width="0.8"/>
<text x="20.80" y="277.39" font-size="5.0" fill="#4a4a4a" text-anchor="end">0.02</text>
<line x1="22.799999999999997" x2="24.4" y1="260.06" y2="260.06" stroke="#707070" stroke-width="0.8"/>
<text x="20.80" y="262.41" font-size="5.0" fill="#4a4a4a" text-anchor="end">0.03</text>
<line x1="22.799999999999997" x2="24.4" y1="245.08" y2="245.08" stroke="#707070" stroke-width="0.8"/>
<text x="20.80" y="247.43" font-size="5.0" fill="#4a4a4a" text-anchor="end">0.04</text>
<line x1="22.799999999999997" x2="24.4" y1="230.10" y2="230.10" stroke="#707070" stroke-width="0.8"/>
<text x="20.80" y="232.45" font-size="5.0" fill="#4a4a4a" text-anchor="end">0.05</text>
<line x1="29.35" x2="29.35" y1="309.0" y2="310.6" stroke="#707070" stroke-width="0.8"/>
<text x="29.35" y="316.50" font-size="5.25" fill="#4a4a4a" text-anchor="middle">0</text>
<line x1="67.03" x2="67.03" y1="309.0" y2="310.6" stroke="#707070" stroke-width="0.8"/>
<text x="67.03" y="316.50" font-size="5.25" fill="#4a4a4a" text-anchor="middle">25</text>
<line x1="104.70" x2="104.70" y1="309.0" y2="310.6" stroke="#707070" stroke-width="0.8"/>
<text x="104.70" y="316.50" font-size="5.25" fill="#4a4a4a" text-anchor="middle">50</text>
<line x1="142.38" x2="142.38" y1="309.0" y2="310.6" stroke="#707070" stroke-width="0.8"/>
<text x="142.38" y="316.50" font-size="5.25" fill="#4a4a4a" text-anchor="middle">75</text>
<text x="97.20" y="324.95" font-size="6.4" fill="#111" stroke="#111" stroke-width="0.12" text-anchor="middle">Tuber size (mm)</text>
<text transform="translate(7.50 267.40) rotate(-90)" font-size="6.45" fill="#151515" text-anchor="middle">Probability density</text>
<text x="2.2" y="224.3" font-size="6.1" fill="#111" stroke="#111" stroke-width="0.12">(<tspan font-style="italic">e</tspan>)</text>
</g>
</svg>
</body></html>
